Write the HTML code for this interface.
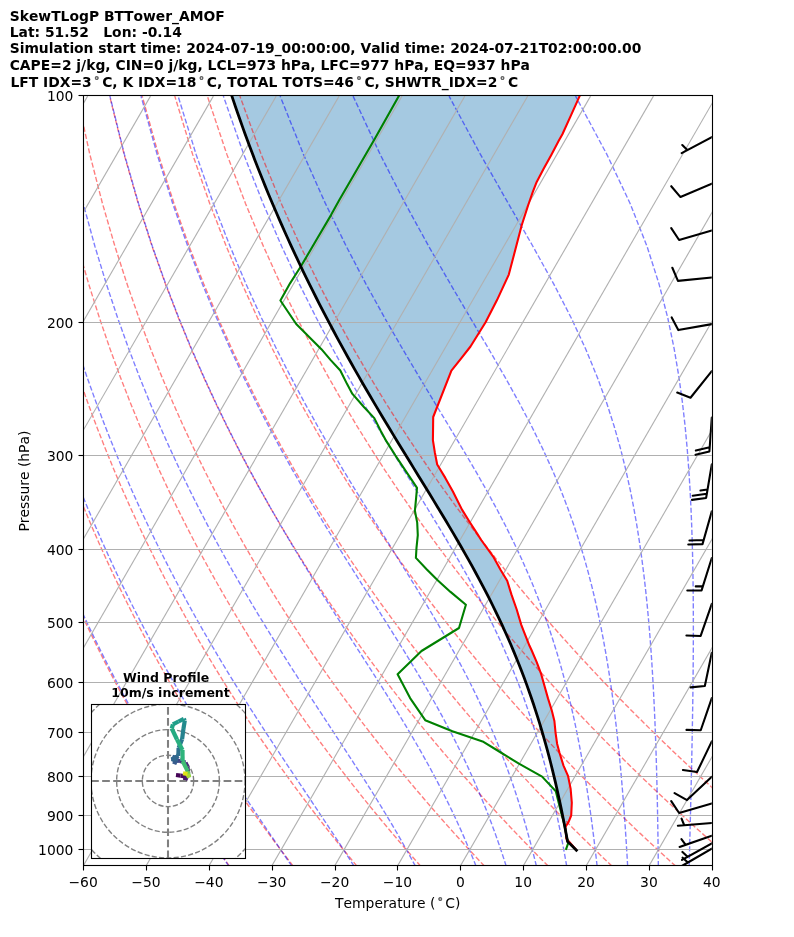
<!DOCTYPE html><html><head><meta charset="utf-8"><style>html,body{margin:0;padding:0;background:#fff}svg{display:block;will-change:transform}text{font-kerning:none;font-feature-settings:"kern" 0}</style></head><body><svg width="794" height="937" viewBox="0 0 794 937"><rect width="794" height="937" fill="#fff"/><defs><clipPath id="ax"><rect x="83.12" y="96.1" width="628.67" height="770.0"/></clipPath></defs><g clip-path="url(#ax)"><polygon points="230.03,90.5 230.2,91 230.36,91.5 230.53,92 230.69,92.5 230.86,93 231.02,93.5 231.19,94 231.31,94.36 231.35,94.5 231.52,95 231.69,95.5 231.85,96 231.92,96.2 232.02,96.5 232.19,97 232.36,97.5 232.52,98 232.69,98.5 232.86,99 233.03,99.5 233.19,100 233.36,100.5 233.5,100.92 233.53,101 233.7,101.5 233.87,102 234.04,102.5 234.21,103 234.38,103.5 234.55,104 234.72,104.5 234.89,105 235.06,105.5 235.23,106 235.4,106.5 235.57,107 235.73,107.47 235.74,107.5 235.91,108 236.09,108.5 236.26,109 236.43,109.5 236.6,110 236.78,110.5 236.95,111 237.12,111.5 237.3,112 237.47,112.5 237.64,113 237.81,113.5 237.99,114 237.99,114.02 238.16,114.5 238.2,114.6 238.34,115 238.51,115.5 238.69,116 238.86,116.5 239.04,117 239.21,117.5 239.39,118 239.56,118.5 239.74,119 239.91,119.5 240.09,120 240.27,120.5 240.29,120.57 240.44,121 240.62,121.5 240.8,122 240.98,122.5 241.16,123 241.33,123.5 241.51,124 241.69,124.5 241.87,125 242.05,125.5 242.22,126 242.4,126.5 242.58,127 242.62,127.13 242.76,127.5 242.94,128 243.12,128.5 243.3,129 243.48,129.5 243.66,130 243.84,130.5 244.02,131 244.2,131.5 244.39,132 244.57,132.5 244.75,133 244.93,133.5 244.99,133.68 245.11,134 245.22,134.3 245.29,134.5 245.48,135 245.66,135.5 245.84,136 246.03,136.5 246.21,137 246.39,137.5 246.58,138 246.76,138.5 246.94,139 247.13,139.5 247.31,140 247.4,140.23 247.5,140.5 247.68,141 247.72,141.1 247.87,141.5 248.05,142 248.24,142.5 248.43,143 248.61,143.5 248.8,144 248.98,144.5 249.17,145 249.36,145.5 249.54,146 249.73,146.5 249.83,146.79 249.92,147 250.1,147.5 250.29,148 250.48,148.5 250.67,149 250.86,149.5 251.05,150 251.24,150.5 251.43,151 251.61,151.5 251.8,152 251.99,152.5 252.18,153 252.31,153.34 252.37,153.5 252.56,154 252.75,154.5 252.94,155 253.1,155.4 253.14,155.5 253.33,156 253.52,156.5 253.71,157 253.9,157.5 254.09,158 254.29,158.5 254.48,159 254.67,159.5 254.82,159.89 254.86,160 255.05,160.5 255.25,161 255.44,161.5 255.64,162 255.83,162.5 256.03,163 256.22,163.5 256.41,164 256.61,164.5 256.8,165 257,165.5 257.19,166 257.36,166.44 257.39,166.5 257.58,167 257.78,167.5 257.98,168 258.17,168.5 258.37,169 258.41,169.1 258.57,169.5 258.77,170 258.96,170.5 259.16,171 259.36,171.5 259.55,172 259.75,172.5 259.95,173 259.95,173 260.15,173.5 260.35,174 260.55,174.5 260.75,175 260.95,175.5 261.15,176 261.35,176.5 261.55,177 261.75,177.5 261.95,178 262.15,178.5 262.35,179 262.55,179.5 262.57,179.55 262.75,180 262.95,180.5 263.15,181 263.36,181.5 263.52,181.9 263.56,182 263.76,182.5 263.96,183 264.17,183.5 264.37,184 264.57,184.5 264.77,185 264.98,185.5 265.18,186 265.22,186.1 265.38,186.5 265.59,187 265.79,187.5 266,188 266.2,188.5 266.41,189 266.62,189.5 266.82,190 267.03,190.5 267.23,191 267.44,191.5 267.52,191.7 267.64,192 267.85,192.5 267.91,192.66 268.06,193 268.26,193.5 268.47,194 268.68,194.5 268.89,195 269.1,195.5 269.3,196 269.51,196.5 269.72,197 269.93,197.5 270.14,198 270.35,198.5 270.55,199 270.64,199.21 270.76,199.5 270.97,200 271.19,200.5 271.4,201 271.61,201.5 271.82,202 272.03,202.5 272.24,203 272.45,203.5 272.66,204 272.87,204.5 273.08,205 273.3,205.5 273.41,205.76 273.51,206 273.72,206.5 273.94,207 274.15,207.5 274.36,208 274.58,208.5 274.79,209 275.01,209.5 275.22,210 275.43,210.5 275.65,211 275.86,211.5 276.07,212 276.21,212.32 276.29,212.5 276.51,213 276.72,213.5 276.94,214 277.16,214.5 277.37,215 277.59,215.5 277.81,216 278.02,216.5 278.24,217 278.46,217.5 278.67,218 278.89,218.5 279.05,218.87 279.11,219 279.33,219.5 279.55,220 279.77,220.5 279.99,221 280.21,221.5 280.43,222 280.65,222.5 280.86,223 281.08,223.5 281.3,224 281.52,224.5 281.74,225 281.87,225.3 281.93,225.42 281.96,225.5 282.19,226 282.41,226.5 282.63,227 282.85,227.5 283.08,228 283.3,228.5 283.52,229 283.74,229.5 283.97,230 284.19,230.5 284.41,231 284.63,231.5 284.84,231.97 284.86,232 285.08,232.5 285.31,233 285.53,233.5 285.76,234 285.98,234.5 286.21,235 286.43,235.5 286.66,236 286.88,236.5 287.11,237 287.33,237.5 287.56,238 287.79,238.5 287.8,238.53 288.01,239 288.24,239.5 288.47,240 288.7,240.5 288.93,241 289.15,241.5 289.38,242 289.61,242.5 289.84,243 290.07,243.5 290.3,244 290.52,244.5 290.75,245 290.79,245.08 290.98,245.5 291.21,246 291.45,246.5 291.68,247 291.91,247.5 292.14,248 292.37,248.5 292.6,249 292.83,249.5 293.06,250 293.29,250.5 293.53,251 293.76,251.5 293.82,251.63 293.99,252 294.22,252.5 294.46,253 294.69,253.5 294.93,254 295.16,254.5 295.39,255 295.63,255.5 295.86,256 296.1,256.5 296.33,257 296.56,257.5 296.8,258 296.89,258.19 297.03,258.5 297.27,259 297.51,259.5 297.75,260 297.98,260.5 298.22,261 298.46,261.5 298.69,262 298.93,262.5 299.17,263 299.4,263.5 299.64,264 299.88,264.5 299.99,264.74 300.12,265 300.36,265.5 300.6,266 300.84,266.5 301.08,267 301.32,267.5 301.56,268 301.8,268.5 302.04,269 302.28,269.5 302.52,270 302.76,270.5 303,271 303.14,271.29 303.24,271.5 303.48,272 303.72,272.5 303.97,273 304.21,273.5 304.45,274 304.69,274.5 304.74,274.6 304.94,275 305.18,275.5 305.42,276 305.67,276.5 305.91,277 306.15,277.5 306.32,277.84 306.4,278 306.64,278.5 306.89,279 307.13,279.5 307.38,280 307.62,280.5 307.87,281 308.12,281.5 308.36,282 308.61,282.5 308.85,283 309.1,283.5 309.34,284 309.54,284.4 309.59,284.5 309.84,285 310.09,285.5 310.34,286 310.59,286.5 310.83,287 311.08,287.5 311.33,288 311.58,288.5 311.83,289 312.08,289.5 312.33,290 312.58,290.5 312.8,290.95 312.82,291 313.08,291.5 313.33,292 313.58,292.5 313.83,293 314.08,293.5 314.33,294 314.59,294.5 314.84,295 315.09,295.5 315.34,296 315.59,296.5 315.84,297 316.1,297.5 316.1,297.5 316.35,298 316.6,298.5 316.86,299 317.11,299.5 317.37,300 317.42,300.1 317.62,300.5 317.88,301 318.13,301.5 318.39,302 318.64,302.5 318.89,303 319.15,303.5 319.4,304 319.43,304.06 319.66,304.5 319.92,305 320.18,305.5 320.43,306 320.69,306.5 320.95,307 321.21,307.5 321.46,308 321.72,308.5 321.98,309 322.24,309.5 322.49,310 322.75,310.5 322.81,310.61 323.01,311 323.27,311.5 323.53,312 323.79,312.5 324.05,313 324.31,313.5 324.57,314 324.83,314.5 325.09,315 325.35,315.5 325.61,316 325.87,316.5 326.13,317 326.22,317.16 326.4,317.5 326.66,318 326.92,318.5 327.19,319 327.45,319.5 327.71,320 327.98,320.5 328.24,321 328.5,321.5 328.77,322 328.92,322.3 329.03,322.5 329.29,323 329.55,323.5 329.67,323.72 329.82,324 330.09,324.5 330.35,325 330.62,325.5 330.88,326 331.15,326.5 331.42,327 331.68,327.5 331.95,328 332.21,328.5 332.48,329 332.75,329.5 333.01,330 333.16,330.27 333.28,330.5 333.55,331 333.82,331.5 334.09,332 334.36,332.5 334.62,333 334.89,333.5 335.16,334 335.43,334.5 335.7,335 335.97,335.5 336.24,336 336.51,336.5 336.68,336.82 336.78,337 337.05,337.5 337.32,338 337.59,338.5 337.86,339 338.13,339.5 338.41,340 338.68,340.5 338.95,341 339.22,341.5 339.49,342 339.77,342.5 340.04,343 340.24,343.37 340.31,343.5 340.58,344 340.86,344.5 341.13,345 341.41,345.5 341.68,346 341.96,346.5 342.23,347 342.5,347.5 342.78,348 343.05,348.5 343.33,349 343.6,349.5 343.84,349.93 343.88,350 344.15,350.5 344.43,351 344.71,351.5 344.99,352 345.26,352.5 345.54,353 345.82,353.5 346.1,354 346.37,354.5 346.65,355 346.93,355.5 347.2,356 347.47,356.48 347.48,356.5 347.76,357 348.04,357.5 348.32,358 348.6,358.5 348.77,358.8 348.88,359 349.16,359.5 349.44,360 349.72,360.5 350,361 350.28,361.5 350.56,362 350.84,362.5 351.12,363 351.14,363.03 351.4,363.5 351.68,364 351.97,364.5 352.25,365 352.53,365.5 352.81,366 353.1,366.5 353.38,367 353.66,367.5 353.94,368 354.23,368.5 354.51,369 354.79,369.5 354.84,369.59 355.08,370 355.36,370.5 355.47,370.7 355.65,371 355.93,371.5 356.22,372 356.5,372.5 356.79,373 357.07,373.5 357.36,374 357.64,374.5 357.93,375 358.21,375.5 358.5,376 358.58,376.14 358.78,376.5 359.07,377 359.36,377.5 359.65,378 359.93,378.5 360.22,379 360.51,379.5 360.8,380 361.08,380.5 361.37,381 361.66,381.5 361.95,382 362.23,382.5 362.34,382.69 362.52,383 362.81,383.5 363.1,384 363.39,384.5 363.68,385 363.97,385.5 364.26,386 364.55,386.5 364.84,387 365.13,387.5 365.42,388 365.71,388.5 366,389 366.14,389.24 366.29,389.5 366.58,390 366.88,390.5 367.17,391 367.46,391.5 367.75,392 368.04,392.5 368.34,393 368.63,393.5 368.92,394 369.21,394.5 369.51,395 369.8,395.5 369.97,395.8 370.09,396 370.38,396.5 370.68,397 370.97,397.5 371.27,398 371.56,398.5 371.86,399 372.15,399.5 372.45,400 372.74,400.5 373.03,401 373.33,401.5 373.62,402 373.83,402.35 373.92,402.5 374.21,403 374.51,403.5 374.81,404 375.1,404.5 375.4,405 375.7,405.5 375.99,406 376.29,406.5 376.59,407 376.88,407.5 377.18,408 377.48,408.5 377.71,408.9 377.77,409 378.07,409.5 378.37,410 378.67,410.5 378.97,411 379.26,411.5 379.56,412 379.86,412.5 380.16,413 380.46,413.5 380.76,414 381.05,414.5 381.35,415 381.63,415.46 381.65,415.5 381.95,416 382.25,416.5 382.55,417 382.85,417.5 383.15,418 383.45,418.5 383.75,419 384.05,419.5 384.35,420 384.65,420.5 384.95,421 385.25,421.5 385.55,422 385.56,422.01 385.86,422.5 386.16,423 386.46,423.5 386.76,424 387.06,424.5 387.36,425 387.67,425.5 387.97,426 388.27,426.5 388.57,427 388.87,427.5 389.18,428 389.48,428.5 389.52,428.56 389.78,429 390.08,429.5 390.39,430 390.69,430.5 390.99,431 391.3,431.5 391.6,432 391.9,432.5 392.21,433 392.51,433.5 392.81,434 393.12,434.5 393.42,435 393.49,435.12 393.72,435.5 394.03,436 394.33,436.5 394.64,437 394.94,437.5 395.25,438 395.55,438.5 395.86,439 396.16,439.5 396.47,440 396.53,440.1 396.77,440.5 397.07,441 397.38,441.5 397.48,441.67 397.68,442 397.99,442.5 398.3,443 398.6,443.5 398.91,444 399.21,444.5 399.52,445 399.82,445.5 400.13,446 400.44,446.5 400.74,447 401.05,447.5 401.35,448 401.49,448.22 401.66,448.5 401.97,449 402.27,449.5 402.58,450 402.89,450.5 403.19,451 403.5,451.5 403.8,452 403.93,452.2 404.11,452.5 404.42,453 404.72,453.5 405.03,454 405.34,454.5 405.51,454.77 405.64,455 405.95,455.5 406.26,456 406.57,456.5 406.87,457 407.18,457.5 407.49,458 407.79,458.5 408.1,459 408.41,459.5 408.72,460 409.02,460.5 409.33,461 409.53,461.33 409.64,461.5 409.95,462 410.25,462.5 410.56,463 410.87,463.5 411.18,464 411.48,464.5 411.79,465 412.1,465.5 412.41,466 412.71,466.5 413.02,467 413.33,467.5 413.56,467.88 413.64,468 413.94,468.5 414.25,469 414.56,469.5 414.87,470 415.18,470.5 415.48,471 415.79,471.5 416.1,472 416.41,472.5 416.71,473 417.02,473.5 417.33,474 417.6,474.43 417.64,474.5 417.95,475 418.25,475.5 418.56,476 418.87,476.5 419.18,477 419.48,477.5 419.73,477.9 419.79,478 420.1,478.5 420.41,479 420.71,479.5 421.02,480 421.33,480.5 421.63,480.99 421.64,481 421.94,481.5 422.25,482 422.56,482.5 422.87,483 423.17,483.5 423.48,484 423.79,484.5 424.09,485 424.4,485.5 424.71,486 425.02,486.5 425.32,487 425.63,487.5 425.65,487.54 425.94,488 426.24,488.5 426.55,489 426.86,489.5 427.16,490 427.47,490.5 427.78,491 428.08,491.5 428.39,492 428.7,492.5 429,493 429.31,493.5 429.61,494 429.67,494.09 429.92,494.5 430.23,495 430.53,495.5 430.84,496 431.14,496.5 431.45,497 431.75,497.5 432.06,498 432.36,498.5 432.67,499 432.98,499.5 433.28,500 433.59,500.5 433.68,500.64 433.89,501 434.2,501.5 434.5,502 434.8,502.5 435.11,503 435.41,503.5 435.72,504 436.02,504.5 436.32,505 436.63,505.5 436.93,506 437.24,506.5 437.54,507 437.66,507.2 437.84,507.5 438.15,508 438.45,508.5 438.75,509 439.05,509.5 439.12,509.6 439.36,510 439.66,510.5 439.96,511 440.27,511.5 440.57,512 440.87,512.5 441.17,513 441.48,513.5 441.63,513.75 441.78,514 442.08,514.5 442.38,515 442.68,515.5 442.98,516 443.28,516.5 443.58,517 443.88,517.5 444.18,518 444.48,518.5 444.78,519 445.08,519.5 445.38,520 445.57,520.3 445.68,520.5 445.98,521 446.28,521.5 446.4,521.7 446.58,522 446.88,522.5 447.18,523 447.47,523.5 447.77,524 448.07,524.5 448.37,525 448.67,525.5 448.97,526 449.26,526.5 449.48,526.86 449.56,527 449.86,527.5 450.15,528 450.45,528.5 450.75,529 451.04,529.5 451.34,530 451.63,530.5 451.93,531 452.22,531.5 452.52,532 452.82,532.5 453.11,533 453.35,533.41 453.41,533.5 453.7,534 453.99,534.5 454.05,534.6 454.29,535 454.58,535.5 454.87,536 455.17,536.5 455.46,537 455.75,537.5 456.04,538 456.34,538.5 456.63,539 456.92,539.5 457.19,539.96 457.22,540 457.51,540.5 457.79,541 458.08,541.5 458.37,542 458.66,542.5 458.95,543 459.24,543.5 459.53,544 459.82,544.5 460.11,545 460.4,545.5 460.69,546 460.98,546.5 460.99,546.52 461.27,547 461.55,547.5 461.84,548 462.13,548.5 462.41,549 462.7,549.5 462.99,550 463.27,550.5 463.56,551 463.85,551.5 464.13,552 464.42,552.5 464.7,553 464.74,553.07 464.99,553.5 465.27,554 465.55,554.5 465.83,555 466.12,555.5 466.4,556 466.68,556.5 466.74,556.6 466.96,557 467.25,557.5 467.53,558 467.81,558.5 468.1,559 468.38,559.5 468.45,559.62 468.66,560 468.94,560.5 469.21,561 469.49,561.5 469.77,562 470.05,562.5 470.33,563 470.61,563.5 470.89,564 471.16,564.5 471.44,565 471.72,565.5 472,566 472.1,566.17 472.28,566.5 472.55,567 472.82,567.5 473.1,568 473.37,568.5 473.65,569 473.92,569.5 474.2,570 474.31,570.2 474.47,570.5 474.74,571 475.02,571.5 475.29,572 475.57,572.5 475.69,572.73 475.84,573 476.11,573.5 476.38,574 476.65,574.5 476.92,575 477.19,575.5 477.46,576 477.73,576.5 478,577 478.27,577.5 478.54,578 478.81,578.5 479.08,579 479.23,579.28 479.34,579.5 479.61,580 479.87,580.5 480.03,580.8 480.14,581 480.4,581.5 480.67,582 480.93,582.5 481.2,583 481.47,583.5 481.73,584 482,584.5 482.26,585 482.53,585.5 482.7,585.83 482.79,586 483.05,586.5 483.31,587 483.57,587.5 483.83,588 484.09,588.5 484.35,589 484.61,589.5 484.87,590 485.13,590.5 485.39,591 485.65,591.5 485.91,592 486.11,592.39 486.17,592.5 486.43,593 486.68,593.5 486.94,594 487.14,594.4 487.19,594.5 487.45,595 487.7,595.5 487.96,596 488.21,596.5 488.47,597 488.72,597.5 488.98,598 489.23,598.5 489.46,598.94 489.49,599 489.74,599.5 489.99,600 490.24,600.5 490.49,601 490.74,601.5 490.99,602 491.24,602.5 491.49,603 491.74,603.5 491.99,604 492.24,604.5 492.49,605 492.74,605.49 492.74,605.5 492.98,606 493.23,606.5 493.47,607 493.72,607.5 493.96,608 494.21,608.5 494.45,609 494.7,609.5 494.94,610 495.19,610.5 495.43,611 495.68,611.5 495.92,612 495.94,612.04 496.16,612.5 496.4,613 496.64,613.5 496.88,614 497.12,614.5 497.36,615 497.6,615.5 497.84,616 498.08,616.5 498.32,617 498.56,617.5 498.79,618 499.03,618.5 499.08,618.6 499.27,619 499.5,619.5 499.74,620 499.97,620.5 500.2,621 500.44,621.5 500.67,622 500.91,622.5 501.14,623 501.37,623.5 501.61,624 501.84,624.5 501.89,624.6 502.08,625 502.15,625.15 502.31,625.5 502.53,626 502.76,626.5 502.99,627 503.22,627.5 503.45,628 503.68,628.5 503.91,629 504.13,629.5 504.36,630 504.59,630.5 504.68,630.7 504.82,631 505.05,631.5 505.14,631.7 505.27,632 505.5,632.5 505.72,633 505.94,633.5 506.16,634 506.39,634.5 506.61,635 506.83,635.5 507.06,636 507.28,636.5 507.5,637 507.72,637.5 507.95,638 508.06,638.26 508.17,638.5 508.39,639 508.6,639.5 508.82,640 509.04,640.5 509.25,641 509.47,641.5 509.69,642 509.91,642.5 510.12,643 510.34,643.5 510.56,644 510.78,644.5 510.91,644.81 510.99,645 511.2,645.5 511.33,645.8 511.42,646 511.63,646.5 511.84,647 512.05,647.5 512.26,648 512.47,648.5 512.69,649 512.9,649.5 513.11,650 513.32,650.5 513.53,651 513.69,651.36 513.74,651.5 513.95,652 514.16,652.5 514.36,653 514.57,653.5 514.78,654 514.98,654.5 515.19,655 515.39,655.5 515.6,656 515.81,656.5 516.01,657 516.22,657.5 516.39,657.92 516.42,658 516.63,658.5 516.83,659 517.03,659.5 517.23,660 517.43,660.5 517.63,661 517.83,661.5 518.03,662 518.07,662.1 518.23,662.5 518.43,663 518.63,663.5 518.84,664 519.02,664.47 519.04,664.5 519.23,665 519.43,665.5 519.62,666 519.82,666.5 520.01,667 520.21,667.5 520.4,668 520.6,668.5 520.79,669 520.99,669.5 521.19,670 521.38,670.5 521.58,671 521.58,671.02 521.77,671.5 521.96,672 522.15,672.5 522.34,673 522.53,673.5 522.72,674 522.79,674.2 522.91,674.5 523.1,675 523.29,675.5 523.48,676 523.67,676.5 523.86,677 524.05,677.5 524.07,677.57 524.23,678 524.42,678.5 524.6,679 524.79,679.5 524.97,680 525.16,680.5 525.34,681 525.53,681.5 525.71,682 525.9,682.5 526.08,683 526.26,683.5 526.45,684 526.5,684.13 526.63,684.5 526.81,685 526.99,685.5 527.17,686 527.35,686.5 527.53,687 527.71,687.5 527.89,688 528.07,688.5 528.25,689 528.43,689.5 528.61,690 528.79,690.5 528.85,690.68 528.96,691 529.14,691.5 529.31,692 529.49,692.5 529.66,693 529.83,693.5 530.01,694 530.18,694.5 530.36,695 530.53,695.5 530.71,696 530.88,696.5 531.06,697 531.14,697.23 531.23,697.5 531.4,698 531.53,698.4 531.57,698.5 531.74,699 531.9,699.5 532.07,700 532.24,700.5 532.41,701 532.58,701.5 532.75,702 532.92,702.5 533.09,703 533.26,703.5 533.36,703.79 533.43,704 533.59,704.5 533.76,705 533.92,705.5 534.09,706 534.25,706.5 534.42,707 534.58,707.5 534.74,708 534.91,708.5 535.07,709 535.24,709.5 535.4,710 535.51,710.34 535.57,710.5 535.73,711 535.89,711.5 536.05,712 536.2,712.5 536.36,713 536.52,713.5 536.68,714 536.84,714.5 537,715 537.16,715.5 537.32,716 537.48,716.5 537.61,716.89 537.64,717 537.8,717.5 537.95,718 538.11,718.5 538.26,719 538.42,719.5 538.57,720 538.73,720.5 538.88,721 539.04,721.5 539.19,722 539.35,722.5 539.5,723 539.64,723.44 539.66,723.5 539.81,724 539.96,724.5 540.11,725 540.26,725.5 540.41,726 540.56,726.5 540.71,727 540.86,727.5 541.01,728 541.16,728.5 541.31,729 541.46,729.5 541.61,730 541.61,730 541.76,730.5 541.91,731 542.05,731.5 542.2,732 542.35,732.5 542.49,733 542.52,733.1 542.64,733.5 542.78,734 542.93,734.5 543.08,735 543.22,735.5 543.37,736 543.51,736.5 543.53,736.55 543.66,737 543.8,737.5 543.94,738 544.08,738.5 544.22,739 544.37,739.5 544.51,740 544.65,740.5 544.79,741 544.93,741.5 545.07,742 545.22,742.5 545.36,743 545.39,743.1 545.5,743.5 545.55,743.7 545.63,744 545.77,744.5 545.91,745 546.05,745.5 546.18,746 546.32,746.5 546.46,747 546.6,747.5 546.73,748 546.87,748.5 547.01,749 547.15,749.5 547.19,749.66 547.28,750 547.42,750.5 547.55,751 547.68,751.5 547.82,752 547.95,752.5 548.03,752.8 548.08,753 548.22,753.5 548.35,754 548.48,754.5 548.62,755 548.75,755.5 548.88,756 548.94,756.21 549.01,756.5 549.14,757 549.27,757.5 549.4,758 549.53,758.5 549.66,759 549.79,759.5 549.92,760 550.05,760.5 550.18,761 550.31,761.5 550.44,762 550.57,762.5 550.64,762.76 550.7,763 550.82,763.5 550.95,764 551.07,764.5 551.2,765 551.33,765.5 551.35,765.6 551.45,766 551.58,766.5 551.7,767 551.83,767.5 551.95,768 552.08,768.5 552.21,769 552.29,769.32 552.33,769.5 552.45,770 552.57,770.5 552.7,771 552.82,771.5 552.94,772 553.06,772.5 553.18,773 553.31,773.5 553.43,774 553.55,774.5 553.67,775 553.79,775.5 553.87,775.8 553.88,775.87 553.92,776 554.03,776.5 554.15,777 554.27,777.5 554.39,778 554.51,778.5 554.63,779 554.74,779.5 554.86,780 554.98,780.5 555.1,781 555.22,781.5 555.34,782 555.44,782.42 555.45,782.5 555.57,783 555.68,783.5 555.8,784 555.91,784.5 556.03,785 556.14,785.5 556.26,786 556.37,786.5 556.49,787 556.6,787.5 556.72,788 556.83,788.5 556.86,788.6 556.94,788.97 556.95,789 557.06,789.5 557.17,790 557.28,790.5 557.39,791 557.51,791.5 557.62,792 557.73,792.5 557.84,793 557.95,793.5 558.06,794 558.18,794.5 558.29,795 558.4,795.5 558.4,795.53 558.51,796 558.62,796.5 558.72,797 558.83,797.5 558.94,798 559.05,798.5 559.16,799 559.26,799.5 559.37,800 559.48,800.5 559.59,801 559.7,801.5 559.81,802 559.82,802.08 559.91,802.5 559.95,802.7 560.02,803 560.12,803.5 560.23,804 560.33,804.5 560.44,805 560.54,805.5 560.65,806 560.75,806.5 560.86,807 560.96,807.5 561.07,808 561.17,808.5 561.2,808.63 561.28,809 561.38,809.5 561.48,810 561.58,810.5 561.69,811 561.79,811.5 561.89,812 561.99,812.5 562.09,813 562.2,813.5 562.3,814 562.4,814.5 562.5,815 562.54,815.19 562.6,815.5 562.7,816 562.8,816.5 562.9,817 563,817.5 563.1,818 563.2,818.5 563.3,819 563.4,819.5 563.49,820 563.59,820.5 563.69,821 563.79,821.5 563.84,821.74 563.87,821.9 563.89,822 563.99,822.5 564.08,823 564.18,823.5 564.28,824 564.37,824.5 564.47,825 564.56,825.5 564.66,826 564.76,826.5 564.85,827 564.95,827.5 565.05,828 565.1,828.29 565.14,828.5 565.23,829 565.33,829.5 565.42,830 565.52,830.5 565.61,831 565.7,831.5 565.8,832 565.89,832.5 565.98,833 566.08,833.5 566.17,834 566.26,834.5 566.33,834.84 566.36,835 566.45,835.5 566.54,836 566.63,836.5 566.72,837 566.81,837.5 566.9,838 566.99,838.5 567.08,839 567.18,839.5 567.27,840 567.36,840.5 567.45,841 567.52,841.4 567.62,841.5 568.13,842 568.63,842.5 569.13,843 569.63,843.5 569.75,843.62 570.13,844 570.64,844.5 571.14,845 571.64,845.5 571.97,845.82 572.15,846 572.65,846.5 573.16,847 573.66,847.5 574.17,848 574.18,848.01 574.67,848.5 575.18,849 575.58,849.4 575.8,849.4 575.45,849 575.02,848.5 574.59,848.01 574.58,848 574.14,847.5 573.71,847 573.27,846.5 572.84,846 572.68,845.82 572.4,845.5 571.97,845 571.53,844.5 571.09,844 570.76,843.62 570.66,843.5 570.22,843 569.79,842.5 569.35,842 568.91,841.5 568.83,841.4 568.48,841 568.04,840.5 567.61,840 567.18,839.5 567.08,839 566.99,838.5 566.9,838 566.81,837.5 566.72,837 566.63,836.5 566.54,836 566.45,835.5 566.36,835 566.33,834.84 566.26,834.5 566.17,834 566.08,833.5 565.98,833 565.89,832.5 565.8,832 565.75,831.5 565.71,831 565.67,830.5 565.63,830 565.6,829.5 565.56,829 565.52,828.5 565.5,828.29 565.48,828 565.44,827.5 565.4,827 565.71,826.5 566.03,826 566.34,825.5 566.65,825 566.97,824.5 567.28,824 567.6,823.5 567.91,823 568.22,822.5 568.54,822 568.6,821.9 568.67,821.74 568.76,821.5 568.97,821 569.17,820.5 569.37,820 569.58,819.5 569.78,819 569.98,818.5 570.18,818 570.39,817.5 570.59,817 570.79,816.5 571,816 571.2,815.5 571.21,815.19 571.22,815 571.25,814.5 571.27,814 571.29,813.5 571.32,813 571.34,812.5 571.36,812 571.39,811.5 571.41,811 571.43,810.5 571.46,810 571.48,809.5 571.5,809 571.52,808.63 571.53,808.5 571.55,808 571.58,807.5 571.6,807 571.62,806.5 571.65,806 571.67,805.5 571.69,805 571.72,804.5 571.74,804 571.76,803.5 571.79,803 571.8,802.7 571.78,802.5 571.75,802.08 571.74,802 571.7,801.5 571.66,801 571.61,800.5 571.57,800 571.53,799.5 571.49,799 571.44,798.5 571.4,798 571.36,797.5 571.31,797 571.27,796.5 571.23,796 571.19,795.53 571.19,795.5 571.14,795 571.1,794.5 571.06,794 571.02,793.5 570.97,793 570.93,792.5 570.89,792 570.85,791.5 570.8,791 570.76,790.5 570.72,790 570.68,789.5 570.63,789 570.63,788.97 570.6,788.6 570.58,788.5 570.48,788 570.38,787.5 570.27,787 570.17,786.5 570.07,786 569.97,785.5 569.87,785 569.77,784.5 569.67,784 569.56,783.5 569.46,783 569.36,782.5 569.34,782.42 569.26,782 569.16,781.5 569.06,781 568.95,780.5 568.85,780 568.75,779.5 568.65,779 568.55,778.5 568.45,778 568.35,777.5 568.24,777 568.14,776.5 568.04,776 568.01,775.87 568,775.8 567.87,775.5 567.65,775 567.43,774.5 567.21,774 566.99,773.5 566.76,773 566.54,772.5 566.32,772 566.1,771.5 565.88,771 565.66,770.5 565.44,770 565.22,769.5 565.14,769.32 565,769 564.78,768.5 564.56,768 564.34,767.5 564.12,767 563.9,766.5 563.68,766 563.5,765.6 563.47,765.5 563.31,765 563.16,764.5 563,764 562.84,763.5 562.69,763 562.61,762.76 562.53,762.5 562.38,762 562.22,761.5 562.06,761 561.91,760.5 561.75,760 561.59,759.5 561.44,759 561.28,758.5 561.12,758 560.97,757.5 560.81,757 560.66,756.5 560.57,756.21 560.5,756 560.34,755.5 560.19,755 560.03,754.5 559.88,754 559.72,753.5 559.56,753 559.5,752.8 559.42,752.5 559.29,752 559.16,751.5 559.03,751 558.89,750.5 558.76,750 558.67,749.66 558.63,749.5 558.5,749 558.37,748.5 558.23,748 558.1,747.5 557.97,747 557.84,746.5 557.71,746 557.57,745.5 557.44,745 557.31,744.5 557.18,744 557.1,743.7 557.07,743.5 557.02,743.1 557,743 556.93,742.5 556.86,742 556.79,741.5 556.72,741 556.65,740.5 556.58,740 556.51,739.5 556.43,739 556.36,738.5 556.29,738 556.22,737.5 556.15,737 556.09,736.55 556.08,736.5 556.01,736 555.94,735.5 555.87,735 555.8,734.5 555.73,734 555.66,733.5 555.6,733.1 555.59,733 555.54,732.5 555.49,732 555.44,731.5 555.39,731 555.34,730.5 555.29,730 555.29,730 555.24,729.5 555.19,729 555.14,728.5 555.09,728 555.04,727.5 555,727 554.95,726.5 554.9,726 554.85,725.5 554.8,725 554.75,724.5 554.7,724 554.65,723.5 554.64,723.44 554.6,723 554.55,722.5 554.5,722 554.45,721.5 554.4,721 554.28,720.5 554.15,720 554.03,719.5 553.9,719 553.78,718.5 553.66,718 553.53,717.5 553.41,717 553.38,716.89 553.29,716.5 553.16,716 553.04,715.5 552.91,715 552.79,714.5 552.67,714 552.54,713.5 552.42,713 552.3,712.5 552.17,712 552.05,711.5 551.92,711 551.8,710.5 551.75,710.34 551.64,710 551.49,709.5 551.33,709 551.17,708.5 551.01,708 550.86,707.5 550.7,707 550.54,706.5 550.39,706 550.23,705.5 550.07,705 549.92,704.5 549.76,704 549.69,703.79 549.6,703.5 549.44,703 549.29,702.5 549.13,702 548.97,701.5 548.82,701 548.66,700.5 548.5,700 548.35,699.5 548.19,699 548.03,698.5 548,698.4 547.89,698 547.75,697.5 547.67,697.23 547.61,697 547.47,696.5 547.33,696 547.19,695.5 547.04,695 546.9,694.5 546.76,694 546.62,693.5 546.48,693 546.34,692.5 546.2,692 546.06,691.5 545.92,691 545.83,690.68 545.78,690.5 545.64,690 545.5,689.5 545.36,689 545.22,688.5 545.08,688 544.94,687.5 544.8,687 544.66,686.5 544.52,686 544.38,685.5 544.23,685 544.09,684.5 543.99,684.13 543.95,684 543.81,683.5 543.67,683 543.53,682.5 543.39,682 543.25,681.5 543.11,681 542.97,680.5 542.83,680 542.69,679.5 542.55,679 542.41,678.5 542.27,678 542.15,677.57 542.13,677.5 541.99,677 541.85,676.5 541.71,676 541.57,675.5 541.42,675 541.28,674.5 541.2,674.2 541.13,674 540.94,673.5 540.75,673 540.57,672.5 540.38,672 540.2,671.5 540.02,671.02 540.01,671 539.82,670.5 539.64,670 539.45,669.5 539.27,669 539.08,668.5 538.89,668 538.71,667.5 538.52,667 538.34,666.5 538.15,666 537.96,665.5 537.78,665 537.59,664.5 537.58,664.47 537.41,664 537.22,663.5 537.03,663 536.85,662.5 536.7,662.1 536.66,662 536.44,661.5 536.23,661 536.01,660.5 535.8,660 535.58,659.5 535.37,659 535.15,658.5 534.94,658 534.9,657.92 534.72,657.5 534.51,657 534.29,656.5 534.08,656 533.86,655.5 533.65,655 533.43,654.5 533.22,654 533,653.5 532.79,653 532.57,652.5 532.36,652 532.14,651.5 532.09,651.36 531.93,651 531.71,650.5 531.5,650 531.26,649.5 531.02,649 530.79,648.5 530.55,648 530.31,647.5 530.07,647 529.83,646.5 529.6,646 529.5,645.8 529.38,645.5 529.18,645 529.11,644.81 528.98,644.5 528.78,644 528.59,643.5 528.39,643 528.19,642.5 527.99,642 527.79,641.5 527.59,641 527.39,640.5 527.2,640 527,639.5 526.8,639 526.6,638.5 526.5,638.26 526.4,638 526.2,637.5 526,637 525.8,636.5 525.61,636 525.41,635.5 525.21,635 525.01,634.5 524.81,634 524.61,633.5 524.41,633 524.22,632.5 524.02,632 523.9,631.7 523.82,631.5 523.62,631 523.5,630.7 523.42,630.5 523.24,630 523.05,629.5 522.86,629 522.67,628.5 522.48,628 522.29,627.5 522.1,627 521.92,626.5 521.73,626 521.54,625.5 521.41,625.15 521.35,625 521.2,624.6 521.17,624.5 521.02,624 520.87,623.5 520.72,623 520.57,622.5 520.43,622 520.28,621.5 520.13,621 519.98,620.5 519.83,620 519.68,619.5 519.53,619 519.41,618.6 519.38,618.5 519.23,618 519.08,617.5 518.94,617 518.79,616.5 518.64,616 518.49,615.5 518.34,615 518.19,614.5 518.04,614 517.89,613.5 517.74,613 517.59,612.5 517.46,612.04 517.45,612 517.3,611.5 517.15,611 517,610.5 516.85,610 516.7,609.5 516.52,609 516.35,608.5 516.17,608 516,607.5 515.82,607 515.65,606.5 515.47,606 515.3,605.5 515.29,605.49 515.12,605 514.95,604.5 514.77,604 514.59,603.5 514.42,603 514.24,602.5 514.07,602 513.89,601.5 513.72,601 513.54,600.5 513.37,600 513.19,599.5 513.01,599 512.99,598.94 512.84,598.5 512.66,598 512.49,597.5 512.31,597 512.14,596.5 511.96,596 511.79,595.5 511.61,595 511.44,594.5 511.4,594.4 511.28,594 511.12,593.5 510.97,593 510.81,592.5 510.78,592.39 510.66,592 510.5,591.5 510.35,591 510.2,590.5 510.04,590 509.89,589.5 509.73,589 509.58,588.5 509.42,588 509.27,587.5 509.11,587 508.96,586.5 508.81,586 508.75,585.83 508.65,585.5 508.5,585 508.34,584.5 508.19,584 508.03,583.5 507.88,583 507.73,582.5 507.57,582 507.42,581.5 507.26,581 507.2,580.8 507.02,580.5 506.72,580 506.42,579.5 506.28,579.28 506.11,579 505.81,578.5 505.51,578 505.21,577.5 504.91,577 504.6,576.5 504.3,576 504,575.5 503.7,575 503.4,574.5 503.09,574 502.79,573.5 502.49,573 502.33,572.73 502.19,572.5 501.89,572 501.58,571.5 501.28,571 500.98,570.5 500.8,570.2 500.69,570 500.41,569.5 500.13,569 499.85,568.5 499.57,568 499.29,567.5 499.01,567 498.73,566.5 498.55,566.17 498.45,566 498.17,565.5 497.89,565 497.61,564.5 497.34,564 497.06,563.5 496.78,563 496.5,562.5 496.22,562 495.94,561.5 495.66,561 495.38,560.5 495.1,560 494.89,559.62 494.82,559.5 494.54,559 494.26,558.5 493.98,558 493.7,557.5 493.42,557 493.2,556.6 493.13,556.5 492.77,556 492.4,555.5 492.04,555 491.68,554.5 491.32,554 490.96,553.5 490.65,553.07 490.6,553 490.24,552.5 489.87,552 489.51,551.5 489.15,551 488.79,550.5 488.43,550 488.07,549.5 487.71,549 487.34,548.5 486.98,548 486.62,547.5 486.26,547 485.91,546.52 485.9,546.5 485.54,546 485.18,545.5 484.81,545 484.45,544.5 484.09,544 483.73,543.5 483.37,543 483.01,542.5 482.65,542 482.28,541.5 481.92,541 481.56,540.5 481.2,540 481.18,539.96 480.89,539.5 480.57,539 480.26,538.5 479.94,538 479.63,537.5 479.31,537 479,536.5 478.68,536 478.37,535.5 478.05,535 477.8,534.6 477.74,534.5 477.41,534 477.09,533.5 477.03,533.41 476.77,533 476.45,532.5 476.13,532 475.81,531.5 475.48,531 475.16,530.5 474.84,530 474.52,529.5 474.2,529 473.88,528.5 473.55,528 473.23,527.5 472.91,527 472.82,526.86 472.59,526.5 472.27,526 471.94,525.5 471.62,525 471.3,524.5 470.98,524 470.66,523.5 470.34,523 470.01,522.5 469.69,522 469.5,521.7 469.38,521.5 469.07,521 468.76,520.5 468.63,520.3 468.45,520 468.14,519.5 467.83,519 467.52,518.5 467.21,518 466.9,517.5 466.59,517 466.28,516.5 465.97,516 465.66,515.5 465.35,515 465.04,514.5 464.73,514 464.57,513.75 464.42,513.5 464.11,513 463.8,512.5 463.49,512 463.18,511.5 462.87,511 462.56,510.5 462.25,510 462,509.6 461.95,509.5 461.7,509 461.45,508.5 461.2,508 460.94,507.5 460.79,507.2 460.69,507 460.44,506.5 460.19,506 459.94,505.5 459.69,505 459.44,504.5 459.18,504 458.93,503.5 458.68,503 458.43,502.5 458.18,502 457.93,501.5 457.68,501 457.5,500.64 457.42,500.5 457.17,500 456.92,499.5 456.67,499 456.42,498.5 456.17,498 455.92,497.5 455.67,497 455.41,496.5 455.16,496 454.91,495.5 454.66,495 454.41,494.5 454.2,494.09 454.16,494 453.91,493.5 453.65,493 453.4,492.5 453.15,492 452.9,491.5 452.62,491 452.34,490.5 452.06,490 451.78,489.5 451.5,489 451.22,488.5 450.94,488 450.69,487.54 450.66,487.5 450.39,487 450.11,486.5 449.83,486 449.55,485.5 449.27,485 448.99,484.5 448.71,484 448.43,483.5 448.15,483 447.87,482.5 447.59,482 447.31,481.5 447.03,481 447.02,480.99 446.75,480.5 446.47,480 446.19,479.5 445.91,479 445.64,478.5 445.36,478 445.3,477.9 445.06,477.5 444.76,477 444.45,476.5 444.15,476 443.85,475.5 443.55,475 443.24,474.5 443.2,474.43 442.94,474 442.64,473.5 442.34,473 442.04,472.5 441.73,472 441.43,471.5 441.13,471 440.83,470.5 440.52,470 440.22,469.5 439.92,469 439.62,468.5 439.32,468 439.24,467.88 439.01,467.5 438.71,467 438.41,466.5 438.11,466 437.8,465.5 437.5,465 437.2,464.5 437.1,464 437,463.5 436.91,463 436.81,462.5 436.71,462 436.61,461.5 436.58,461.33 436.52,461 436.42,460.5 436.32,460 436.22,459.5 436.13,459 436.03,458.5 435.93,458 435.83,457.5 435.74,457 435.64,456.5 435.54,456 435.44,455.5 435.35,455 435.3,454.77 435.25,454.5 435.15,454 435.05,453.5 434.96,453 434.86,452.5 434.8,452.2 434.77,452 434.69,451.5 434.61,451 434.53,450.5 434.45,450 434.38,449.5 434.3,449 434.22,448.5 434.18,448.22 434.14,448 434.06,447.5 433.98,447 433.9,446.5 433.83,446 433.75,445.5 433.67,445 433.59,444.5 433.51,444 433.43,443.5 433.36,443 433.28,442.5 433.2,442 433.15,441.67 433.12,441.5 433.04,441 432.96,440.5 432.9,440.1 432.9,440 432.91,439.5 432.91,439 432.92,438.5 432.93,438 432.93,437.5 432.94,437 432.95,436.5 432.95,436 432.96,435.5 432.97,435.12 432.97,435 432.97,434.5 432.98,434 432.99,433.5 432.99,433 433,432.5 433.01,432 433.01,431.5 433.02,431 433.03,430.5 433.03,430 433.04,429.5 433.05,429 433.05,428.56 433.05,428.5 433.06,428 433.07,427.5 433.07,427 433.08,426.5 433.09,426 433.09,425.5 433.1,425 433.11,424.5 433.11,424 433.12,423.5 433.12,423 433.13,422.5 433.14,422.01 433.14,422 433.14,421.5 433.15,421 433.16,420.5 433.16,420 433.17,419.5 433.18,419 433.18,418.5 433.19,418 433.19,417.5 433.2,417 433.4,416.5 433.59,416 433.79,415.5 433.81,415.46 433.99,415 434.18,414.5 434.38,414 434.58,413.5 434.77,413 434.97,412.5 435.17,412 435.36,411.5 435.56,411 435.76,410.5 435.95,410 436.15,409.5 436.34,409 436.38,408.9 436.54,408.5 436.74,408 436.93,407.5 437.13,407 437.33,406.5 437.52,406 437.72,405.5 437.92,405 438.11,404.5 438.31,404 438.51,403.5 438.7,403 438.9,402.5 438.96,402.35 439.1,402 439.29,401.5 439.49,401 439.69,400.5 439.88,400 440.08,399.5 440.28,399 440.47,398.5 440.67,398 440.87,397.5 441.06,397 441.26,396.5 441.45,396 441.53,395.8 441.65,395.5 441.85,395 442.04,394.5 442.24,394 442.44,393.5 442.63,393 442.83,392.5 443.03,392 443.22,391.5 443.42,391 443.62,390.5 443.81,390 444.01,389.5 444.11,389.24 444.21,389 444.4,388.5 444.6,388 444.8,387.5 444.99,387 445.19,386.5 445.39,386 445.58,385.5 445.78,385 445.98,384.5 446.17,384 446.37,383.5 446.57,383 446.69,382.69 446.76,382.5 446.96,382 447.15,381.5 447.35,381 447.55,380.5 447.74,380 447.94,379.5 448.14,379 448.33,378.5 448.53,378 448.73,377.5 448.92,377 449.12,376.5 449.26,376.14 449.32,376 449.51,375.5 449.71,375 449.91,374.5 450.1,374 450.3,373.5 450.5,373 450.69,372.5 450.89,372 451.09,371.5 451.28,371 451.4,370.7 451.56,370.5 451.95,370 452.28,369.59 452.35,369.5 452.74,369 453.14,368.5 453.53,368 453.93,367.5 454.32,367 454.72,366.5 455.11,366 455.51,365.5 455.9,365 456.3,364.5 456.69,364 457.09,363.5 457.46,363.03 457.48,363 457.88,362.5 458.27,362 458.67,361.5 459.06,361 459.46,360.5 459.85,360 460.25,359.5 460.64,359 460.8,358.8 461.04,358.5 461.43,358 461.83,357.5 462.22,357 462.61,356.5 462.63,356.48 463.01,356 463.4,355.5 463.8,355 464.19,354.5 464.59,354 464.98,353.5 465.37,353 465.77,352.5 466.16,352 466.56,351.5 466.95,351 467.35,350.5 467.74,350 467.8,349.93 468.13,349.5 468.53,349 468.92,348.5 469.32,348 469.71,347.5 470.11,347 470.5,346.5 470.81,346 471.12,345.5 471.44,345 471.75,344.5 472.06,344 472.37,343.5 472.45,343.37 472.68,343 473,342.5 473.31,342 473.62,341.5 473.93,341 474.24,340.5 474.56,340 474.87,339.5 475.18,339 475.49,338.5 475.8,338 476.12,337.5 476.43,337 476.54,336.82 476.74,336.5 477.05,336 477.36,335.5 477.68,335 477.99,334.5 478.3,334 478.61,333.5 478.92,333 479.24,332.5 479.55,332 479.86,331.5 480.17,331 480.48,330.5 480.63,330.27 480.8,330 481.11,329.5 481.42,329 481.73,328.5 482.04,328 482.36,327.5 482.67,327 482.98,326.5 483.29,326 483.6,325.5 483.92,325 484.23,324.5 484.54,324 484.72,323.72 484.85,323.5 485.16,323 485.48,322.5 485.6,322.3 485.75,322 486.01,321.5 486.27,321 486.52,320.5 486.78,320 487.04,319.5 487.29,319 487.55,318.5 487.81,318 488.06,317.5 488.24,317.16 488.32,317 488.58,316.5 488.84,316 489.09,315.5 489.35,315 489.61,314.5 489.86,314 490.12,313.5 490.38,313 490.63,312.5 490.89,312 491.15,311.5 491.4,311 491.6,310.61 491.66,310.5 491.92,310 492.17,309.5 492.43,309 492.69,308.5 492.94,308 493.2,307.5 493.46,307 493.71,306.5 493.97,306 494.23,305.5 494.48,305 494.74,304.5 494.97,304.06 495,304 495.25,303.5 495.51,303 495.77,302.5 496.02,302 496.28,301.5 496.54,301 496.79,300.5 497,300.1 497.05,300 497.28,299.5 497.51,299 497.74,298.5 497.97,298 498.2,297.5 498.2,297.5 498.43,297 498.67,296.5 498.9,296 499.13,295.5 499.36,295 499.59,294.5 499.82,294 500.05,293.5 500.29,293 500.52,292.5 500.75,292 500.98,291.5 501.21,291 501.23,290.95 501.44,290.5 501.67,290 501.91,289.5 502.14,289 502.37,288.5 502.6,288 502.83,287.5 503.06,287 503.29,286.5 503.52,286 503.76,285.5 503.99,285 504.22,284.5 504.27,284.4 504.45,284 504.68,283.5 504.91,283 505.14,282.5 505.38,282 505.61,281.5 505.84,281 506.07,280.5 506.3,280 506.53,279.5 506.76,279 507,278.5 507.23,278 507.3,277.84 507.46,277.5 507.69,277 507.92,276.5 508.15,276 508.38,275.5 508.61,275 508.8,274.6 508.83,274.5 508.96,274 509.09,273.5 509.22,273 509.35,272.5 509.48,272 509.61,271.5 509.67,271.29 509.74,271 509.87,270.5 510,270 510.13,269.5 510.27,269 510.4,268.5 510.53,268 510.66,267.5 510.79,267 510.92,266.5 511.05,266 511.18,265.5 511.31,265 511.38,264.74 511.44,264.5 511.57,264 511.7,263.5 511.84,263 511.97,262.5 512.1,262 512.23,261.5 512.36,261 512.49,260.5 512.62,260 512.75,259.5 512.88,259 513.01,258.5 513.09,258.19 513.14,258 513.27,257.5 513.41,257 513.54,256.5 513.67,256 513.8,255.5 513.93,255 514.06,254.5 514.19,254 514.32,253.5 514.45,253 514.58,252.5 514.71,252 514.81,251.63 514.84,251.5 514.98,251 515.11,250.5 515.24,250 515.37,249.5 515.5,249 515.63,248.5 515.76,248 515.89,247.5 516.02,247 516.15,246.5 516.28,246 516.41,245.5 516.52,245.08 516.55,245 516.68,244.5 516.81,244 516.94,243.5 517.07,243 517.2,242.5 517.33,242 517.46,241.5 517.59,241 517.72,240.5 517.85,240 517.98,239.5 518.12,239 518.24,238.53 518.25,238.5 518.38,238 518.51,237.5 518.64,237 518.77,236.5 518.9,236 519.03,235.5 519.16,235 519.29,234.5 519.42,234 519.55,233.5 519.69,233 519.82,232.5 519.95,232 519.95,231.97 520.08,231.5 520.21,231 520.34,230.5 520.47,230 520.6,229.5 520.73,229 520.86,228.5 520.99,228 521.12,227.5 521.26,227 521.39,226.5 521.52,226 521.65,225.5 521.67,225.42 521.7,225.3 521.8,225 521.96,224.5 522.12,224 522.28,223.5 522.44,223 522.6,222.5 522.76,222 522.92,221.5 523.09,221 523.25,220.5 523.41,220 523.57,219.5 523.73,219 523.77,218.87 523.89,218.5 524.05,218 524.21,217.5 524.37,217 524.53,216.5 524.7,216 524.86,215.5 525.02,215 525.18,214.5 525.34,214 525.5,213.5 525.66,213 525.82,212.5 525.88,212.32 525.98,212 526.15,211.5 526.31,211 526.47,210.5 526.63,210 526.79,209.5 526.95,209 527.11,208.5 527.27,208 527.43,207.5 527.59,207 527.76,206.5 527.92,206 527.99,205.76 528.08,205.5 528.24,205 528.4,204.5 528.58,204 528.75,203.5 528.93,203 529.1,202.5 529.28,202 529.45,201.5 529.63,201 529.81,200.5 529.98,200 530.16,199.5 530.26,199.21 530.33,199 530.51,198.5 530.69,198 530.86,197.5 531.04,197 531.21,196.5 531.39,196 531.56,195.5 531.74,195 531.92,194.5 532.09,194 532.27,193.5 532.44,193 532.56,192.66 532.62,192.5 532.79,192 532.9,191.7 532.98,191.5 533.17,191 533.37,190.5 533.56,190 533.75,189.5 533.95,189 534.14,188.5 534.33,188 534.53,187.5 534.72,187 534.92,186.5 535.07,186.1 535.11,186 535.3,185.5 535.5,185 535.69,184.5 535.89,184 536.08,183.5 536.27,183 536.47,182.5 536.66,182 536.7,181.9 536.91,181.5 537.18,181 537.44,180.5 537.71,180 537.95,179.55 537.98,179.5 538.24,179 538.51,178.5 538.77,178 539.04,177.5 539.3,177 539.57,176.5 539.83,176 540.1,175.5 540.37,175 540.63,174.5 540.9,174 541.16,173.5 541.43,173 541.43,173 541.69,172.5 541.96,172 542.23,171.5 542.49,171 542.76,170.5 543.02,170 543.29,169.5 543.5,169.1 543.55,169 543.83,168.5 544.1,168 544.38,167.5 544.65,167 544.92,166.5 544.95,166.44 545.2,166 545.47,165.5 545.74,165 546.02,164.5 546.29,164 546.57,163.5 546.84,163 547.11,162.5 547.39,162 547.66,161.5 547.93,161 548.21,160.5 548.48,160 548.54,159.89 548.76,159.5 549.03,159 549.3,158.5 549.58,158 549.85,157.5 550.12,157 550.4,156.5 550.67,156 550.95,155.5 551,155.4 551.21,155 551.48,154.5 551.74,154 552.01,153.5 552.1,153.34 552.28,153 552.54,152.5 552.81,152 553.07,151.5 553.34,151 553.6,150.5 553.87,150 554.14,149.5 554.4,149 554.67,148.5 554.93,148 555.2,147.5 555.46,147 555.58,146.79 555.73,146.5 556,146 556.26,145.5 556.53,145 556.79,144.5 557.06,144 557.32,143.5 557.59,143 557.86,142.5 558.12,142 558.39,141.5 558.6,141.1 558.66,141 558.94,140.5 559.08,140.23 559.21,140 559.49,139.5 559.77,139 560.05,138.5 560.33,138 560.61,137.5 560.89,137 561.17,136.5 561.45,136 561.73,135.5 562.01,135 562.29,134.5 562.4,134.3 562.54,134 562.68,133.68 562.76,133.5 562.99,133 563.21,132.5 563.44,132 563.66,131.5 563.89,131 564.12,130.5 564.34,130 564.57,129.5 564.79,129 565.02,128.5 565.25,128 565.47,127.5 565.64,127.13 565.7,127 565.92,126.5 566.15,126 566.38,125.5 566.6,125 566.83,124.5 567.05,124 567.28,123.5 567.51,123 567.73,122.5 567.96,122 568.18,121.5 568.41,121 568.6,120.57 568.63,120.5 568.86,120 569.09,119.5 569.31,119 569.54,118.5 569.76,118 569.99,117.5 570.22,117 570.44,116.5 570.67,116 570.89,115.5 571.12,115 571.3,114.6 571.35,114.5 571.56,114.02 571.57,114 571.8,113.5 572.02,113 572.25,112.5 572.47,112 572.7,111.5 572.92,111 573.15,110.5 573.38,110 573.6,109.5 573.83,109 574.05,108.5 574.28,108 574.5,107.5 574.52,107.47 574.73,107 574.95,106.5 575.18,106 575.4,105.5 575.63,105 575.86,104.5 576.08,104 576.31,103.5 576.53,103 576.76,102.5 576.98,102 577.21,101.5 577.43,101 577.47,100.92 577.66,100.5 577.89,100 578.11,99.5 578.34,99 578.56,98.5 578.79,98 579.01,97.5 579.24,97 579.46,96.5 579.6,96.2 579.69,96 579.91,95.5 580.13,95 580.35,94.5 580.41,94.36 580.56,94 580.78,93.5 581,93 581.22,92.5 581.44,92 581.66,91.5 581.88,91 582.1,90.5" fill="#1f77b4" fill-opacity="0.4"/><polyline points="229.43,866.1 225.06,860 220.65,853.78 216.2,847.44 211.71,840.97 207.17,834.38 202.59,827.65 197.97,820.78 193.3,813.76 188.58,806.59 183.82,799.25 179,791.75 174.13,784.08 169.21,776.21 164.24,768.16 159.21,759.9 154.13,751.43 148.98,742.73 143.78,733.8 138.51,724.62 133.18,715.17 127.78,705.44 122.32,695.41 116.78,685.06 111.18,674.38 105.5,663.34 99.74,651.91 93.9,640.07 87.99,627.78 81.98,615.02 75.9,601.74 69.72,587.89 63.45,573.44 57.09,558.32 50.64,542.46 44.08,525.8 37.43,508.24 30.68,489.69 23.82,470.03 16.87,449.11 9.83,426.76 2.7,402.77 -4.51,376.89 -11.78,348.78 -19.08,318.03 -26.37,284.1 -33.58,246.23 -40.59,203.41 -47.23,154.13 -53.15,96.1" fill="none" stroke="#ff0000" stroke-width="1.389" stroke-dasharray="5.139 2.222" stroke-opacity="0.5"/><polyline points="293.18,866.1 288.47,860 283.72,853.78 278.92,847.44 274.07,840.97 269.18,834.38 264.24,827.65 259.25,820.78 254.2,813.76 249.11,806.59 243.95,799.25 238.75,791.75 233.48,784.08 228.16,776.21 222.77,768.16 217.32,759.9 211.81,751.43 206.23,742.73 200.58,733.8 194.86,724.62 189.06,715.17 183.19,705.44 177.25,695.41 171.22,685.06 165.11,674.38 158.91,663.34 152.62,651.91 146.24,640.07 139.77,627.78 133.19,615.02 126.52,601.74 119.73,587.89 112.84,573.44 105.83,558.32 98.7,542.46 91.45,525.8 84.08,508.24 76.58,489.69 68.95,470.03 61.18,449.11 53.28,426.76 45.25,402.77 37.09,376.89 28.81,348.78 20.44,318.03 11.99,284.1 3.54,246.23 -4.84,203.41 -12.98,154.13 -20.59,96.1" fill="none" stroke="#ff0000" stroke-width="1.389" stroke-dasharray="5.139 2.222" stroke-opacity="0.5"/><polyline points="356.93,866.1 351.88,860 346.79,853.78 341.64,847.44 336.44,840.97 331.19,834.38 325.89,827.65 320.52,820.78 315.11,813.76 309.63,806.59 304.09,799.25 298.49,791.75 292.83,784.08 287.1,776.21 281.3,768.16 275.43,759.9 269.49,751.43 263.47,742.73 257.38,733.8 251.2,724.62 244.95,715.17 238.61,705.44 232.18,695.41 225.65,685.06 219.04,674.38 212.32,663.34 205.51,651.91 198.58,640.07 191.55,627.78 184.4,615.02 177.13,601.74 169.74,587.89 162.22,573.44 154.56,558.32 146.77,542.46 138.83,525.8 130.73,508.24 122.48,489.69 114.07,470.03 105.49,449.11 96.73,426.76 87.8,402.77 78.69,376.89 69.4,348.78 59.95,318.03 50.36,284.1 40.66,246.23 30.92,203.41 21.28,154.13 11.97,96.1" fill="none" stroke="#ff0000" stroke-width="1.389" stroke-dasharray="5.139 2.222" stroke-opacity="0.5"/><polyline points="420.68,866.1 415.29,860 409.85,853.78 404.36,847.44 398.81,840.97 393.2,834.38 387.53,827.65 381.8,820.78 376.01,813.76 370.15,806.59 364.23,799.25 358.24,791.75 352.17,784.08 346.04,776.21 339.83,768.16 333.54,759.9 327.17,751.43 320.71,742.73 314.18,733.8 307.55,724.62 300.83,715.17 294.02,705.44 287.1,695.41 280.09,685.06 272.97,674.38 265.74,663.34 258.39,651.91 250.92,640.07 243.33,627.78 235.61,615.02 227.75,601.74 219.75,587.89 211.6,573.44 203.3,558.32 194.84,542.46 186.2,525.8 177.39,508.24 168.39,489.69 159.19,470.03 149.79,449.11 140.18,426.76 130.35,402.77 120.29,376.89 110,348.78 99.47,318.03 88.73,284.1 77.78,246.23 66.68,203.41 55.53,154.13 44.53,96.1" fill="none" stroke="#ff0000" stroke-width="1.389" stroke-dasharray="5.139 2.222" stroke-opacity="0.5"/><polyline points="484.43,866.1 478.7,860 472.92,853.78 467.08,847.44 461.18,840.97 455.21,834.38 449.18,827.65 443.08,820.78 436.91,813.76 430.68,806.59 424.37,799.25 417.98,791.75 411.52,784.08 404.98,776.21 398.35,768.16 391.64,759.9 384.85,751.43 377.96,742.73 370.98,733.8 363.9,724.62 356.71,715.17 349.43,705.44 342.03,695.41 334.52,685.06 326.9,674.38 319.15,663.34 311.27,651.91 303.26,640.07 295.11,627.78 286.82,615.02 278.37,601.74 269.76,587.89 260.99,573.44 252.04,558.32 242.9,542.46 233.57,525.8 224.04,508.24 214.29,489.69 204.32,470.03 194.1,449.11 183.63,426.76 172.9,402.77 161.89,376.89 150.59,348.78 138.99,318.03 127.09,284.1 114.9,246.23 102.44,203.41 89.78,154.13 77.1,96.1" fill="none" stroke="#ff0000" stroke-width="1.389" stroke-dasharray="5.139 2.222" stroke-opacity="0.5"/><polyline points="548.18,866.1 542.11,860 535.99,853.78 529.8,847.44 523.54,840.97 517.22,834.38 510.82,827.65 504.36,820.78 497.82,813.76 491.2,806.59 484.5,799.25 477.73,791.75 470.87,784.08 463.92,776.21 456.88,768.16 449.75,759.9 442.53,751.43 435.2,742.73 427.78,733.8 420.24,724.62 412.6,715.17 404.84,705.44 396.96,695.41 388.96,685.06 380.83,674.38 372.56,663.34 364.16,651.91 355.6,640.07 346.89,627.78 338.02,615.02 328.99,601.74 319.77,587.89 310.37,573.44 300.77,558.32 290.97,542.46 280.95,525.8 270.69,508.24 260.2,489.69 249.44,470.03 238.41,449.11 227.08,426.76 215.45,402.77 203.49,376.89 191.18,348.78 178.51,318.03 165.46,284.1 152.02,246.23 138.19,203.41 124.04,154.13 109.66,96.1" fill="none" stroke="#ff0000" stroke-width="1.389" stroke-dasharray="5.139 2.222" stroke-opacity="0.5"/><polyline points="611.93,866.1 605.53,860 599.06,853.78 592.52,847.44 585.91,840.97 579.23,834.38 572.47,827.65 565.64,820.78 558.72,813.76 551.72,806.59 544.64,799.25 537.47,791.75 530.21,784.08 522.86,776.21 515.41,768.16 507.86,759.9 500.21,751.43 492.45,742.73 484.58,733.8 476.59,724.62 468.48,715.17 460.25,705.44 451.89,695.41 443.39,685.06 434.76,674.38 425.97,663.34 417.04,651.91 407.94,640.07 398.67,627.78 389.23,615.02 379.61,601.74 369.78,587.89 359.75,573.44 349.51,558.32 339.04,542.46 328.32,525.8 317.35,508.24 306.1,489.69 294.56,470.03 282.71,449.11 270.54,426.76 258,402.77 245.09,376.89 231.78,348.78 218.03,318.03 203.82,284.1 189.13,246.23 173.95,203.41 158.29,154.13 142.22,96.1" fill="none" stroke="#ff0000" stroke-width="1.389" stroke-dasharray="5.139 2.222" stroke-opacity="0.5"/><polyline points="675.68,866.1 668.94,860 662.12,853.78 655.24,847.44 648.28,840.97 641.24,834.38 634.12,827.65 626.91,820.78 619.62,813.76 612.25,806.59 604.78,799.25 597.22,791.75 589.56,784.08 581.8,776.21 573.94,768.16 565.97,759.9 557.89,751.43 549.69,742.73 541.38,733.8 532.93,724.62 524.37,715.17 515.66,705.44 506.82,695.41 497.83,685.06 488.69,674.38 479.39,663.34 469.92,651.91 460.28,640.07 450.46,627.78 440.44,615.02 430.22,601.74 419.79,587.89 409.14,573.44 398.25,558.32 387.1,542.46 375.69,525.8 364,508.24 352,489.69 339.68,470.03 327.02,449.11 313.99,426.76 300.55,402.77 286.69,376.89 272.37,348.78 257.55,318.03 242.19,284.1 226.25,246.23 209.71,203.41 192.54,154.13 174.78,96.1" fill="none" stroke="#ff0000" stroke-width="1.389" stroke-dasharray="5.139 2.222" stroke-opacity="0.5"/><polyline points="739.43,866.1 732.35,860 725.19,853.78 717.96,847.44 710.64,840.97 703.25,834.38 695.76,827.65 688.19,820.78 680.53,813.76 672.77,806.59 664.92,799.25 656.96,791.75 648.91,784.08 640.74,776.21 632.47,768.16 624.08,759.9 615.57,751.43 606.94,742.73 598.17,733.8 589.28,724.62 580.25,715.17 571.07,705.44 561.75,695.41 552.26,685.06 542.62,674.38 532.8,663.34 522.8,651.91 512.62,640.07 502.24,627.78 491.65,615.02 480.84,601.74 469.8,587.89 458.52,573.44 446.98,558.32 435.17,542.46 423.07,525.8 410.65,508.24 397.91,489.69 384.81,470.03 371.33,449.11 357.44,426.76 343.11,402.77 328.29,376.89 312.96,348.78 297.07,318.03 280.55,284.1 263.37,246.23 245.47,203.41 226.79,154.13 207.34,96.1" fill="none" stroke="#ff0000" stroke-width="1.389" stroke-dasharray="5.139 2.222" stroke-opacity="0.5"/><polyline points="803.18,866.1 795.76,860 788.26,853.78 780.68,847.44 773.01,840.97 765.26,834.38 757.41,827.65 749.47,820.78 741.43,813.76 733.3,806.59 725.06,799.25 716.71,791.75 708.25,784.08 699.68,776.21 690.99,768.16 682.18,759.9 673.25,751.43 664.18,742.73 654.97,733.8 645.63,724.62 636.13,715.17 626.48,705.44 616.68,695.41 606.7,685.06 596.55,674.38 586.21,663.34 575.69,651.91 564.96,640.07 554.02,627.78 542.86,615.02 531.46,601.74 519.81,587.89 507.9,573.44 495.72,558.32 483.24,542.46 470.44,525.8 457.3,508.24 443.81,489.69 429.93,470.03 415.63,449.11 400.89,426.76 385.66,402.77 369.9,376.89 353.56,348.78 336.58,318.03 318.92,284.1 300.49,246.23 281.23,203.41 261.05,154.13 239.9,96.1" fill="none" stroke="#ff0000" stroke-width="1.389" stroke-dasharray="5.139 2.222" stroke-opacity="0.5"/><polyline points="228.86,866.1 224.73,860 220.53,853.78 216.28,847.44 211.97,840.97 207.6,834.38 203.17,827.65 198.68,820.78 194.13,813.76 189.52,806.59 184.85,799.25 180.12,791.75 175.32,784.08 170.47,776.21 165.55,768.16 160.57,759.9 155.52,751.43 150.41,742.73 145.23,733.8 139.98,724.62 134.67,715.17 129.28,705.44 123.82,695.41 118.29,685.06 112.68,674.38 107,663.34 101.24,651.91 95.39,640.07 89.46,627.78 83.45,615.02 77.35,601.74 71.16,587.89 64.87,573.44 58.49,558.32 52.02,542.46 45.45,525.8 38.77,508.24 32,489.69 25.12,470.03 18.15,449.11 11.08,426.76 3.92,402.77 -3.32,376.89 -10.61,348.78 -17.94,318.03 -25.27,284.1 -32.51,246.23 -39.56,203.41 -46.24,154.13 -52.21,96.1" fill="none" stroke="#0000ff" stroke-width="1.389" stroke-dasharray="5.139 2.222" stroke-opacity="0.5"/><polyline points="291.81,866.1 287.66,860 283.43,853.78 279.12,847.44 274.72,840.97 270.25,834.38 265.69,827.65 261.04,820.78 256.32,813.76 251.51,806.59 246.61,799.25 241.64,791.75 236.58,784.08 231.44,776.21 226.21,768.16 220.9,759.9 215.5,751.43 210.02,742.73 204.45,733.8 198.8,724.62 193.06,715.17 187.23,705.44 181.31,695.41 175.29,685.06 169.19,674.38 162.99,663.34 156.69,651.91 150.29,640.07 143.79,627.78 137.19,615.02 130.48,601.74 123.66,587.89 116.72,573.44 109.67,558.32 102.49,542.46 95.19,525.8 87.76,508.24 80.2,489.69 72.51,470.03 64.68,449.11 56.71,426.76 48.61,402.77 40.37,376.89 32.02,348.78 23.56,318.03 15.02,284.1 6.47,246.23 -2.01,203.41 -10.27,154.13 -18.02,96.1" fill="none" stroke="#0000ff" stroke-width="1.389" stroke-dasharray="5.139 2.222" stroke-opacity="0.5"/><polyline points="354.04,866.1 350.16,860 346.17,853.78 342.07,847.44 337.86,840.97 333.54,834.38 329.11,827.65 324.56,820.78 319.89,813.76 315.11,806.59 310.21,799.25 305.19,791.75 300.06,784.08 294.8,776.21 289.43,768.16 283.94,759.9 278.32,751.43 272.59,742.73 266.74,733.8 260.77,724.62 254.68,715.17 248.47,705.44 242.14,695.41 235.69,685.06 229.11,674.38 222.42,663.34 215.6,651.91 208.65,640.07 201.57,627.78 194.37,615.02 187.03,601.74 179.55,587.89 171.93,573.44 164.17,558.32 156.26,542.46 148.19,525.8 139.96,508.24 131.57,489.69 123,470.03 114.26,449.11 105.33,426.76 96.22,402.77 86.93,376.89 77.44,348.78 67.78,318.03 57.96,284.1 48.01,246.23 38,203.41 28.06,154.13 18.42,96.1" fill="none" stroke="#0000ff" stroke-width="1.389" stroke-dasharray="5.139 2.222" stroke-opacity="0.5"/><polyline points="415.38,866.1 412.1,860 408.7,853.78 405.18,847.44 401.53,840.97 397.74,834.38 393.82,827.65 389.76,820.78 385.55,813.76 381.19,806.59 376.67,799.25 372,791.75 367.16,784.08 362.16,776.21 357,768.16 351.66,759.9 346.15,751.43 340.47,742.73 334.61,733.8 328.58,724.62 322.37,715.17 315.98,705.44 309.42,695.41 302.68,685.06 295.77,674.38 288.68,663.34 281.41,651.91 273.97,640.07 266.35,627.78 258.56,615.02 250.58,601.74 242.43,587.89 234.09,573.44 225.57,558.32 216.85,542.46 207.94,525.8 198.83,508.24 189.51,489.69 179.97,470.03 170.2,449.11 160.2,426.76 149.96,402.77 139.47,376.89 128.71,348.78 117.69,318.03 106.41,284.1 94.89,246.23 83.16,203.41 71.32,154.13 59.54,96.1" fill="none" stroke="#0000ff" stroke-width="1.389" stroke-dasharray="5.139 2.222" stroke-opacity="0.5"/><polyline points="476.01,866.1 473.58,860 471.06,853.78 468.42,847.44 465.67,840.97 462.8,834.38 459.79,827.65 456.65,820.78 453.36,813.76 449.92,806.59 446.32,799.25 442.54,791.75 438.59,784.08 434.44,776.21 430.1,768.16 425.55,759.9 420.79,751.43 415.79,742.73 410.56,733.8 405.09,724.62 399.37,715.17 393.39,705.44 387.14,695.41 380.63,685.06 373.84,674.38 366.77,663.34 359.43,651.91 351.81,640.07 343.91,627.78 335.73,615.02 327.27,601.74 318.54,587.89 309.53,573.44 300.25,558.32 290.7,542.46 280.87,525.8 270.76,508.24 260.36,489.69 249.68,470.03 238.69,449.11 227.4,426.76 215.78,402.77 203.83,376.89 191.52,348.78 178.84,318.03 165.78,284.1 152.33,246.23 138.5,203.41 124.33,154.13 109.93,96.1" fill="none" stroke="#0000ff" stroke-width="1.389" stroke-dasharray="5.139 2.222" stroke-opacity="0.5"/><polyline points="506.2,866.1 504.24,860 502.2,853.78 500.07,847.44 497.84,840.97 495.5,834.38 493.05,827.65 490.48,820.78 487.78,813.76 484.94,806.59 481.96,799.25 478.82,791.75 475.52,784.08 472.03,776.21 468.36,768.16 464.49,759.9 460.4,751.43 456.08,742.73 451.52,733.8 446.7,724.62 441.61,715.17 436.24,705.44 430.56,695.41 424.57,685.06 418.26,674.38 411.61,663.34 404.62,651.91 397.27,640.07 389.56,627.78 381.49,615.02 373.05,601.74 364.25,587.89 355.08,573.44 345.55,558.32 335.66,542.46 325.41,525.8 314.81,508.24 303.85,489.69 292.53,470.03 280.85,449.11 268.8,426.76 256.36,402.77 243.52,376.89 230.26,348.78 216.57,318.03 202.41,284.1 187.77,246.23 172.64,203.41 157.03,154.13 141.02,96.1" fill="none" stroke="#0000ff" stroke-width="1.389" stroke-dasharray="5.139 2.222" stroke-opacity="0.5"/><polyline points="536.41,866.1 534.91,860 533.35,853.78 531.72,847.44 530,840.97 528.21,834.38 526.32,827.65 524.34,820.78 522.25,813.76 520.06,806.59 517.74,799.25 515.3,791.75 512.72,784.08 509.98,776.21 507.09,768.16 504.02,759.9 500.76,751.43 497.29,742.73 493.61,733.8 489.69,724.62 485.5,715.17 481.04,705.44 476.28,695.41 471.2,685.06 465.77,674.38 459.97,663.34 453.78,651.91 447.18,640.07 440.14,627.78 432.64,615.02 424.68,601.74 416.23,587.89 407.28,573.44 397.84,558.32 387.9,542.46 377.46,525.8 366.53,508.24 355.11,489.69 343.21,470.03 330.82,449.11 317.96,426.76 304.61,402.77 290.76,376.89 276.41,348.78 261.51,318.03 246.06,284.1 230.01,246.23 213.33,203.41 196.01,154.13 178.08,96.1" fill="none" stroke="#0000ff" stroke-width="1.389" stroke-dasharray="5.139 2.222" stroke-opacity="0.5"/><polyline points="566.69,866.1 565.63,860 564.52,853.78 563.35,847.44 562.13,840.97 560.84,834.38 559.5,827.65 558.08,820.78 556.59,813.76 555.01,806.59 553.35,799.25 551.59,791.75 549.73,784.08 547.76,776.21 545.66,768.16 543.43,759.9 541.05,751.43 538.51,742.73 535.8,733.8 532.9,724.62 529.78,715.17 526.43,705.44 522.83,695.41 518.95,685.06 514.76,674.38 510.23,663.34 505.32,651.91 500.01,640.07 494.24,627.78 487.99,615.02 481.21,601.74 473.86,587.89 465.9,573.44 457.3,558.32 448.01,542.46 438.03,525.8 427.34,508.24 415.92,489.69 403.79,470.03 390.94,449.11 377.4,426.76 363.17,402.77 348.26,376.89 332.67,348.78 316.38,318.03 299.38,284.1 281.62,246.23 263.06,203.41 243.66,154.13 223.37,96.1" fill="none" stroke="#0000ff" stroke-width="1.389" stroke-dasharray="5.139 2.222" stroke-opacity="0.5"/><polyline points="597.1,866.1 596.42,860 595.71,853.78 594.96,847.44 594.18,840.97 593.36,834.38 592.5,827.65 591.59,820.78 590.63,813.76 589.62,806.59 588.55,799.25 587.41,791.75 586.21,784.08 584.93,776.21 583.57,768.16 582.13,759.9 580.58,751.43 578.92,742.73 577.14,733.8 575.24,724.62 573.18,715.17 570.96,705.44 568.56,695.41 565.96,685.06 563.12,674.38 560.04,663.34 556.67,651.91 552.97,640.07 548.91,627.78 544.44,615.02 539.51,601.74 534.05,587.89 528,573.44 521.29,558.32 513.83,542.46 505.55,525.8 496.36,508.24 486.2,489.69 475,470.03 462.71,449.11 449.3,426.76 434.79,402.77 419.17,376.89 402.49,348.78 384.77,318.03 366.02,284.1 346.23,246.23 325.37,203.41 303.36,154.13 280.14,96.1" fill="none" stroke="#0000ff" stroke-width="1.389" stroke-dasharray="5.139 2.222" stroke-opacity="0.5"/><polyline points="627.65,866.1 627.3,860 626.93,853.78 626.55,847.44 626.15,840.97 625.72,834.38 625.27,827.65 624.8,820.78 624.3,813.76 623.77,806.59 623.2,799.25 622.6,791.75 621.96,784.08 621.28,776.21 620.56,768.16 619.78,759.9 618.94,751.43 618.04,742.73 617.07,733.8 616.02,724.62 614.89,715.17 613.66,705.44 612.32,695.41 610.86,685.06 609.27,674.38 607.51,663.34 605.58,651.91 603.45,640.07 601.09,627.78 598.46,615.02 595.52,601.74 592.22,587.89 588.51,573.44 584.3,558.32 579.53,542.46 574.08,525.8 567.84,508.24 560.67,489.69 552.4,470.03 542.86,449.11 531.87,426.76 519.25,402.77 504.86,376.89 488.6,348.78 470.45,318.03 450.45,284.1 428.68,246.23 405.2,203.41 380.02,154.13 353.08,96.1" fill="none" stroke="#0000ff" stroke-width="1.389" stroke-dasharray="5.139 2.222" stroke-opacity="0.5"/><polyline points="658.34,866.1 658.27,860 658.19,853.78 658.11,847.44 658.02,840.97 657.92,834.38 657.82,827.65 657.7,820.78 657.57,813.76 657.44,806.59 657.29,799.25 657.12,791.75 656.94,784.08 656.74,776.21 656.53,768.16 656.29,759.9 656.02,751.43 655.73,742.73 655.41,733.8 655.05,724.62 654.65,715.17 654.21,705.44 653.72,695.41 653.17,685.06 652.56,674.38 651.87,663.34 651.1,651.91 650.23,640.07 649.24,627.78 648.12,615.02 646.85,601.74 645.39,587.89 643.71,573.44 641.78,558.32 639.53,542.46 636.91,525.8 633.83,508.24 630.18,489.69 625.84,470.03 620.63,449.11 614.32,426.76 606.63,402.77 597.19,376.89 585.57,348.78 571.27,318.03 553.82,284.1 532.86,246.23 508.3,203.41 480.29,154.13 449.06,96.1" fill="none" stroke="#0000ff" stroke-width="1.389" stroke-dasharray="5.139 2.222" stroke-opacity="0.5"/><polyline points="689.18,866.1 689.33,860 689.49,853.78 689.65,847.44 689.81,840.97 689.97,834.38 690.14,827.65 690.31,820.78 690.48,813.76 690.65,806.59 690.83,799.25 691.01,791.75 691.18,784.08 691.36,776.21 691.54,768.16 691.72,759.9 691.89,751.43 692.07,742.73 692.24,733.8 692.4,724.62 692.56,715.17 692.72,705.44 692.86,695.41 693,685.06 693.11,674.38 693.21,663.34 693.29,651.91 693.34,640.07 693.36,627.78 693.34,615.02 693.27,601.74 693.14,587.89 692.94,573.44 692.65,558.32 692.25,542.46 691.7,525.8 690.98,508.24 690.04,489.69 688.82,470.03 687.23,449.11 685.17,426.76 682.47,402.77 678.91,376.89 674.18,348.78 667.8,318.03 659.07,284.1 646.98,246.23 630.09,203.41 606.72,154.13 575.58,96.1" fill="none" stroke="#0000ff" stroke-width="1.389" stroke-dasharray="5.139 2.222" stroke-opacity="0.5"/><polyline points="720.15,866.1 720.48,860 720.81,853.78 721.16,847.44 721.52,840.97 721.89,834.38 722.27,827.65 722.66,820.78 723.06,813.76 723.47,806.59 723.89,799.25 724.33,791.75 724.78,784.08 725.24,776.21 725.71,768.16 726.2,759.9 726.71,751.43 727.23,742.73 727.76,733.8 728.32,724.62 728.88,715.17 729.47,705.44 730.07,695.41 730.7,685.06 731.34,674.38 731.99,663.34 732.67,651.91 733.37,640.07 734.08,627.78 734.82,615.02 735.58,601.74 736.35,587.89 737.13,573.44 737.93,558.32 738.74,542.46 739.55,525.8 740.36,508.24 741.15,489.69 741.91,470.03 742.62,449.11 743.25,426.76 743.75,402.77 744.06,376.89 744.07,348.78 743.62,318.03 742.45,284.1 740.13,246.23 735.9,203.41 728.31,154.13 714.58,96.1" fill="none" stroke="#0000ff" stroke-width="1.389" stroke-dasharray="5.139 2.222" stroke-opacity="0.5"/><polyline points="751.22,866.1 751.69,860 752.17,853.78 752.66,847.44 753.16,840.97 753.68,834.38 754.22,827.65 754.78,820.78 755.35,813.76 755.94,806.59 756.54,799.25 757.17,791.75 757.82,784.08 758.49,776.21 759.19,768.16 759.9,759.9 760.65,751.43 761.42,742.73 762.21,733.8 763.04,724.62 763.9,715.17 764.79,705.44 765.72,695.41 766.69,685.06 767.69,674.38 768.73,663.34 769.82,651.91 770.96,640.07 772.15,627.78 773.4,615.02 774.7,601.74 776.06,587.89 777.49,573.44 779,558.32 780.58,542.46 782.24,525.8 784,508.24 785.85,489.69 787.82,470.03 789.89,449.11 792.09,426.76 794.42,402.77 796.88,376.89 799.48,348.78 802.22,318.03 805.08,284.1 807.99,246.23 810.85,203.41 813.39,154.13 814.96,96.1" fill="none" stroke="#0000ff" stroke-width="1.389" stroke-dasharray="5.139 2.222" stroke-opacity="0.5"/><polyline points="782.4,866.1 782.96,860 783.54,853.78 784.13,847.44 784.75,840.97 785.38,834.38 786.03,827.65 786.71,820.78 787.4,813.76 788.12,806.59 788.86,799.25 789.62,791.75 790.41,784.08 791.23,776.21 792.08,768.16 792.96,759.9 793.87,751.43 794.82,742.73 795.8,733.8 796.82,724.62 797.88,715.17 798.98,705.44 800.13,695.41 801.33,685.06 802.58,674.38 803.89,663.34 805.25,651.91 806.69,640.07 808.19,627.78 809.77,615.02 811.43,601.74 813.18,587.89 815.03,573.44 816.98,558.32 819.05,542.46 821.26,525.8 823.6,508.24 826.1,489.69 828.79,470.03 831.67,449.11 834.78,426.76 838.15,402.77 841.82,376.89 845.83,348.78 850.26,318.03 855.16,284.1 860.64,246.23 866.82,203.41 873.85,154.13 881.94,96.1" fill="none" stroke="#0000ff" stroke-width="1.389" stroke-dasharray="5.139 2.222" stroke-opacity="0.5"/><line x1="83.12" y1="95.5" x2="711.79" y2="95.5" stroke="#b0b0b0" stroke-width="1.111"/><line x1="83.12" y1="322.5" x2="711.79" y2="322.5" stroke="#b0b0b0" stroke-width="1.111"/><line x1="83.12" y1="455.5" x2="711.79" y2="455.5" stroke="#b0b0b0" stroke-width="1.111"/><line x1="83.12" y1="549.5" x2="711.79" y2="549.5" stroke="#b0b0b0" stroke-width="1.111"/><line x1="83.12" y1="622.5" x2="711.79" y2="622.5" stroke="#b0b0b0" stroke-width="1.111"/><line x1="83.12" y1="682.5" x2="711.79" y2="682.5" stroke="#b0b0b0" stroke-width="1.111"/><line x1="83.12" y1="732.5" x2="711.79" y2="732.5" stroke="#b0b0b0" stroke-width="1.111"/><line x1="83.12" y1="776.5" x2="711.79" y2="776.5" stroke="#b0b0b0" stroke-width="1.111"/><line x1="83.12" y1="815.5" x2="711.79" y2="815.5" stroke="#b0b0b0" stroke-width="1.111"/><line x1="83.12" y1="849.5" x2="711.79" y2="849.5" stroke="#b0b0b0" stroke-width="1.111"/><line x1="-356.95" y1="866.1" x2="87.61" y2="96.1" stroke="#b0b0b0" stroke-width="1.111"/><line x1="-294.08" y1="866.1" x2="150.48" y2="96.1" stroke="#b0b0b0" stroke-width="1.111"/><line x1="-231.21" y1="866.1" x2="213.34" y2="96.1" stroke="#b0b0b0" stroke-width="1.111"/><line x1="-168.35" y1="866.1" x2="276.21" y2="96.1" stroke="#b0b0b0" stroke-width="1.111"/><line x1="-105.48" y1="866.1" x2="339.08" y2="96.1" stroke="#b0b0b0" stroke-width="1.111"/><line x1="-42.61" y1="866.1" x2="401.95" y2="96.1" stroke="#b0b0b0" stroke-width="1.111"/><line x1="20.25" y1="866.1" x2="464.81" y2="96.1" stroke="#b0b0b0" stroke-width="1.111"/><line x1="83.12" y1="866.1" x2="527.68" y2="96.1" stroke="#b0b0b0" stroke-width="1.111"/><line x1="145.99" y1="866.1" x2="590.55" y2="96.1" stroke="#b0b0b0" stroke-width="1.111"/><line x1="208.85" y1="866.1" x2="653.41" y2="96.1" stroke="#b0b0b0" stroke-width="1.111"/><line x1="271.72" y1="866.1" x2="716.28" y2="96.1" stroke="#b0b0b0" stroke-width="1.111"/><line x1="334.59" y1="866.1" x2="779.15" y2="96.1" stroke="#b0b0b0" stroke-width="1.111"/><line x1="397.45" y1="866.1" x2="842.01" y2="96.1" stroke="#b0b0b0" stroke-width="1.111"/><line x1="460.32" y1="866.1" x2="904.88" y2="96.1" stroke="#b0b0b0" stroke-width="1.111"/><line x1="523.19" y1="866.1" x2="967.75" y2="96.1" stroke="#b0b0b0" stroke-width="1.111"/><line x1="586.06" y1="866.1" x2="1030.62" y2="96.1" stroke="#b0b0b0" stroke-width="1.111"/><line x1="648.92" y1="866.1" x2="1093.48" y2="96.1" stroke="#b0b0b0" stroke-width="1.111"/><line x1="711.79" y1="866.1" x2="1156.35" y2="96.1" stroke="#b0b0b0" stroke-width="1.111"/><polyline points="582.1,90.5 579.6,96.2 571.3,114.6 562.4,134.3 558.6,141.1 551,155.4 543.5,169.1 536.7,181.9 532.9,191.7 528.4,204.5 521.7,225.3 508.8,274.6 497,300.1 485.6,322.3 470.5,346.5 460.8,358.8 451.4,370.7 433.2,417 433.1,425 432.9,440.1 434.8,452.2 437.2,464.5 445.3,477.9 452.9,491.5 462,509.6 469.5,521.7 477.8,534.6 481.2,540 493.2,556.6 500.8,570.2 507.2,580.8 511.4,594.4 516.7,609.5 521.2,624.6 523.5,630.7 529.5,645.8 531.5,650 536.7,662.1 541.2,674.2 548,698.4 551.8,710.5 554.4,721 555.6,733.1 557.1,743.7 559.5,752.8 563.5,765.6 568,775.8 570.6,788.6 571.8,802.7 571.2,815.5 568.6,821.9 565.4,827 566.3,838.5 575.8,849.4" fill="none" stroke="#ff0000" stroke-width="2.083" stroke-linejoin="round" stroke-linecap="square"/><polyline points="401.5,91.5 399,95.7 374.1,139.9 339.3,200 331,215.1 315.9,240.8 300.8,266.5 290.2,283.1 280.4,300.5 296.2,324 321.4,349.2 330.5,359.9 340.3,370.5 347.1,384.1 352.4,393.9 363.7,406.7 374.3,418.1 380.9,431.3 386.5,441.4 395.3,455.3 417,487.8 416.1,498.1 414.9,510.7 417.2,522.6 417.8,535.2 416.5,547.8 415.9,557.9 426.6,569.2 437.9,580.5 450.5,591.9 465.9,604.8 459,628 421.5,651 397.6,674.3 410.1,698.1 425.2,720.2 452.4,731.3 482.6,741.4 500.8,752.5 518.9,763.6 542.1,776.6 555.8,791.2 560.5,810 564.5,825 566.5,836 568.2,843.2 566.2,848.8" fill="none" stroke="#008000" stroke-width="2.083" stroke-linejoin="round" stroke-linecap="square"/><polyline points="576.38,850.19 574.18,848.01 571.97,845.82 569.75,843.62 567.52,841.4 566.33,834.84 565.1,828.29 563.84,821.74 562.54,815.19 561.2,808.63 559.82,802.08 558.4,795.53 556.94,788.97 555.44,782.42 553.88,775.87 552.29,769.32 550.64,762.76 548.94,756.21 547.19,749.66 545.39,743.1 543.53,736.55 541.61,730 539.64,723.44 537.61,716.89 535.51,710.34 533.36,703.79 531.14,697.23 528.85,690.68 526.5,684.13 524.07,677.57 521.58,671.02 519.02,664.47 516.39,657.92 513.69,651.36 510.91,644.81 508.06,638.26 505.14,631.7 502.15,625.15 499.08,618.6 495.94,612.04 492.74,605.49 489.46,598.94 486.11,592.39 482.7,585.83 479.23,579.28 475.69,572.73 472.1,566.17 468.45,559.62 464.74,553.07 460.99,546.52 457.19,539.96 453.35,533.41 449.48,526.86 445.57,520.3 441.63,513.75 437.66,507.2 433.68,500.64 429.67,494.09 425.65,487.54 421.63,480.99 417.6,474.43 413.56,467.88 409.53,461.33 405.51,454.77 401.49,448.22 397.48,441.67 393.49,435.12 389.52,428.56 385.56,422.01 381.63,415.46 377.71,408.9 373.83,402.35 369.97,395.8 366.14,389.24 362.34,382.69 358.58,376.14 354.84,369.59 351.14,363.03 347.47,356.48 343.84,349.93 340.24,343.37 336.68,336.82 333.16,330.27 329.67,323.72 326.22,317.16 322.81,310.61 319.43,304.06 316.1,297.5 312.8,290.95 309.54,284.4 306.32,277.84 303.14,271.29 299.99,264.74 296.89,258.19 293.82,251.63 290.79,245.08 287.8,238.53 284.84,231.97 281.93,225.42 279.05,218.87 276.21,212.32 273.41,205.76 270.64,199.21 267.91,192.66 265.22,186.1 262.57,179.55 259.95,173 257.36,166.44 254.82,159.89 252.31,153.34 249.83,146.79 247.4,140.23 244.99,133.68 242.62,127.13 240.29,120.57 237.99,114.02 235.73,107.47 233.5,100.92 231.31,94.36 229.15,87.81 227.02,81.26 224.93,74.7 222.87,68.15 220.84,61.6" fill="none" stroke="#000000" stroke-width="2.778" stroke-linejoin="round" stroke-linecap="square"/><g fill="#000" stroke="#000" stroke-width="2.083" stroke-linejoin="round"><polygon points="711.79,137.2 681.68,153.06 687.33,150.08 682.27,145.05 687.33,150.08"/><polygon points="711.79,183.7 680.49,197.06 671.24,186.21 680.49,197.06"/><polygon points="711.79,230.6 679.09,240 671.24,228.1 679.09,240"/><polygon points="711.79,277.5 677.93,280.87 672.35,267.74 677.93,280.87"/><polygon points="711.79,324.1 678.29,330.08 671.71,317.43 678.29,330.08"/><polygon points="711.79,371.2 690.49,397.74 677.21,392.53 690.49,397.74"/><polygon points="711.79,417.6 709.41,451.54 695.54,454.84 709.41,451.54 709.71,447.3 695.83,450.59 709.71,447.3"/><polygon points="711.79,464.4 706.12,497.95 692,499.88 706.12,497.95 706.83,493.76 692.7,495.69 706.83,493.76 707.54,489.56 700.48,490.53 707.54,489.56"/><polygon points="711.79,511.4 702.52,544.14 688.26,544.52 702.52,544.14 703.68,540.05 689.42,540.43 703.68,540.05"/><polygon points="711.79,558 701.56,590.45 687.3,590.42 701.56,590.45 702.84,586.4 695.71,586.38 702.84,586.4"/><polygon points="711.79,603.8 700.66,635.96 686.4,635.52 700.66,635.96"/><polygon points="711.79,652.7 704.83,686.01 690.63,687.39 704.83,686.01"/><polygon points="711.79,698.1 700.74,730.28 686.48,729.88 700.74,730.28"/><polygon points="711.79,741.4 697.02,772.06 682.91,769.98 697.02,772.06"/><polygon points="711.79,776.8 687,800.11 674.58,793.11 687,800.11"/><polygon points="711.79,803.4 679.13,812.96 671.23,801.09 679.13,812.96"/><polygon points="711.79,823 677.87,825.76 684.23,825.24 681.56,818.63 684.23,825.24"/><polygon points="711.79,835.8 679.63,846.92 685.66,844.84 681.43,839.1 685.66,844.84"/><polygon points="711.79,843.4 682.03,859.9 687.61,856.8 682.45,851.88 687.61,856.8"/><polygon points="711.79,848.6 682.37,865.7 687.89,862.49 682.63,857.68 687.89,862.49"/></g></g><rect x="83.5" y="95.5" width="629.0" height="770.0" fill="none" stroke="#000" stroke-width="1.111" stroke-linejoin="miter"/><g stroke="#000" stroke-width="1.111"><line x1="78.5" y1="95.5" x2="83.5" y2="95.5"/><line x1="78.5" y1="322.5" x2="83.5" y2="322.5"/><line x1="78.5" y1="455.5" x2="83.5" y2="455.5"/><line x1="78.5" y1="549.5" x2="83.5" y2="549.5"/><line x1="78.5" y1="622.5" x2="83.5" y2="622.5"/><line x1="78.5" y1="682.5" x2="83.5" y2="682.5"/><line x1="78.5" y1="732.5" x2="83.5" y2="732.5"/><line x1="78.5" y1="776.5" x2="83.5" y2="776.5"/><line x1="78.5" y1="815.5" x2="83.5" y2="815.5"/><line x1="78.5" y1="849.5" x2="83.5" y2="849.5"/><line x1="83.5" y1="865.5" x2="83.5" y2="870.5"/><line x1="146.5" y1="865.5" x2="146.5" y2="870.5"/><line x1="209.5" y1="865.5" x2="209.5" y2="870.5"/><line x1="272.5" y1="865.5" x2="272.5" y2="870.5"/><line x1="335.5" y1="865.5" x2="335.5" y2="870.5"/><line x1="397.5" y1="865.5" x2="397.5" y2="870.5"/><line x1="460.5" y1="865.5" x2="460.5" y2="870.5"/><line x1="523.5" y1="865.5" x2="523.5" y2="870.5"/><line x1="586.5" y1="865.5" x2="586.5" y2="870.5"/><line x1="649.5" y1="865.5" x2="649.5" y2="870.5"/><line x1="712.5" y1="865.5" x2="712.5" y2="870.5"/></g><g style="font-family:'DejaVu Sans',sans-serif;font-size:13.889px" fill="#000"><text x="73.40" y="96.10" text-anchor="end" dominant-baseline="central">100</text><text x="73.40" y="323.08" text-anchor="end" dominant-baseline="central">200</text><text x="73.40" y="455.86" text-anchor="end" dominant-baseline="central">300</text><text x="73.40" y="550.07" text-anchor="end" dominant-baseline="central">400</text><text x="73.40" y="623.14" text-anchor="end" dominant-baseline="central">500</text><text x="73.40" y="682.84" text-anchor="end" dominant-baseline="central">600</text><text x="73.40" y="733.32" text-anchor="end" dominant-baseline="central">700</text><text x="73.40" y="777.05" text-anchor="end" dominant-baseline="central">800</text><text x="73.40" y="815.62" text-anchor="end" dominant-baseline="central">900</text><text x="73.40" y="850.12" text-anchor="end" dominant-baseline="central">1000</text><text x="83.12" y="886.62" text-anchor="middle">−60</text><text x="145.99" y="886.62" text-anchor="middle">−50</text><text x="208.85" y="886.62" text-anchor="middle">−40</text><text x="271.72" y="886.62" text-anchor="middle">−30</text><text x="334.59" y="886.62" text-anchor="middle">−20</text><text x="397.45" y="886.62" text-anchor="middle">−10</text><text x="460.32" y="886.62" text-anchor="middle">0</text><text x="523.19" y="886.62" text-anchor="middle">10</text><text x="586.06" y="886.62" text-anchor="middle">20</text><text x="648.92" y="886.62" text-anchor="middle">30</text><text x="711.79" y="886.62" text-anchor="middle">40</text></g><text style="font-family:'DejaVu Sans',sans-serif;font-size:13.889px" x="335.06" y="907.8">Temperature (<tspan font-size="9.72" dx="1.7" dy="-5.8" fill="#666" stroke="#666" stroke-width="0.7">∘</tspan><tspan dx="2.0" dy="5.8">C)</tspan></text><text style="font-family:'DejaVu Sans',sans-serif;font-size:13.889px" transform="translate(29,481.10) rotate(-90)" text-anchor="middle">Pressure (hPa)</text><defs><clipPath id="hc"><rect x="91.1" y="704.2" width="153.80" height="154.00"/></clipPath></defs><rect x="91.5" y="704.5" width="154" height="154" fill="#fff"/><g clip-path="url(#hc)"><path d="M193.68,780.95 A25.68,25.68 0 0 0 142.32,780.95 A25.68,25.68 0 0 0 193.68,780.95" fill="none" stroke="#808080" stroke-width="1.389" stroke-dasharray="5.139 2.222"/><path d="M219.36,780.95 A51.36,51.36 0 0 0 116.64,780.95 A51.36,51.36 0 0 0 219.36,780.95" fill="none" stroke="#808080" stroke-width="1.389" stroke-dasharray="5.139 2.222"/><path d="M245.04,780.95 A77.04,77.04 0 0 0 90.96,780.95 A77.04,77.04 0 0 0 245.04,780.95" fill="none" stroke="#808080" stroke-width="1.389" stroke-dasharray="5.139 2.222"/><path d="M270.72,780.95 A102.72,102.72 0 0 0 65.28,780.95 A102.72,102.72 0 0 0 270.72,780.95" fill="none" stroke="#808080" stroke-width="1.389" stroke-dasharray="5.139 2.222"/><path d="M296.40,780.95 A128.40,128.40 0 0 0 39.60,780.95 A128.40,128.40 0 0 0 296.40,780.95" fill="none" stroke="#808080" stroke-width="1.389" stroke-dasharray="5.139 2.222"/><line x1="168.0" y1="858.2" x2="168.0" y2="704.2" stroke="#808080" stroke-width="2.083" stroke-dasharray="7.708 3.333"/><line x1="91.1" y1="781" x2="244.9" y2="781" stroke="#808080" stroke-width="2.083" stroke-dasharray="7.708 3.333"/></g><g clip-path="url(#hc)" stroke-width="4.2" stroke-linecap="butt"><line x1="176.0" y1="775.0" x2="180.5" y2="775.6" stroke="#450457"/><line x1="180.5" y1="775.6" x2="185.4" y2="776.3" stroke="#460b5e"/><line x1="185.4" y1="776.3" x2="185.2" y2="780.0" stroke="#471365"/><line x1="185.2" y1="780.0" x2="188.2" y2="773.5" stroke="#481a6c"/><line x1="188.2" y1="773.5" x2="187.5" y2="767.0" stroke="#482173"/><line x1="187.5" y1="767.0" x2="185.5" y2="762.5" stroke="#482878"/><line x1="185.5" y1="762.5" x2="180.0" y2="761.0" stroke="#46307e"/><line x1="180.0" y1="761.0" x2="176.0" y2="760.5" stroke="#414487"/><line x1="176.0" y1="760.5" x2="172.5" y2="757.0" stroke="#3a538b"/><line x1="172.5" y1="757.0" x2="177.0" y2="763.0" stroke="#38598c"/><line x1="177.0" y1="763.0" x2="173.0" y2="761.5" stroke="#375b8d"/><line x1="173.0" y1="761.5" x2="175.0" y2="755.5" stroke="#355e8d"/><line x1="175.0" y1="755.5" x2="178.0" y2="759.0" stroke="#34618d"/><line x1="178.0" y1="759.0" x2="171.5" y2="759.5" stroke="#33638d"/><line x1="171.5" y1="759.5" x2="178.3" y2="756.0" stroke="#31678e"/><line x1="178.3" y1="756.0" x2="178.6" y2="748.0" stroke="#2e6f8e"/><line x1="178.6" y1="748.0" x2="182.1" y2="739.3" stroke="#2a788e"/><line x1="182.1" y1="739.3" x2="183.4" y2="729.1" stroke="#26828e"/><line x1="183.4" y1="729.1" x2="184.8" y2="720.5" stroke="#228b8d"/><line x1="184.8" y1="720.5" x2="183.8" y2="718.8" stroke="#20928c"/><line x1="183.8" y1="718.8" x2="178.5" y2="721.5" stroke="#1f978b"/><line x1="178.5" y1="721.5" x2="172.9" y2="724.4" stroke="#1f9e89"/><line x1="172.9" y1="724.4" x2="171.8" y2="728.6" stroke="#20a486"/><line x1="171.8" y1="728.6" x2="177.0" y2="739.5" stroke="#25ab82"/><line x1="177.0" y1="739.5" x2="182.5" y2="750.0" stroke="#29af7f"/><line x1="182.5" y1="750.0" x2="182.6" y2="761.0" stroke="#2fb47c"/><line x1="182.6" y1="761.0" x2="187.6" y2="771.0" stroke="#3fbc73"/><line x1="187.6" y1="771.0" x2="189.2" y2="777.5" stroke="#6ece58"/><line x1="189.2" y1="777.5" x2="187.5" y2="774.0" stroke="#a8db34"/><line x1="187.5" y1="774.0" x2="183.0" y2="773.2" stroke="#dfe318"/></g><rect x="91.5" y="704.5" width="154" height="154" fill="none" stroke="#000" stroke-width="1.111"/><g style="font-family:'DejaVu Sans',sans-serif;font-size:12.500px;font-weight:bold" text-anchor="middle"><text x="166.15" y="681.6">Wind Profile</text><text x="170.55" y="697">10m/s increment</text></g><g style="font-family:'DejaVu Sans',sans-serif;font-size:13.889px;font-weight:bold;white-space:pre" fill="#000"><text x="9.7" y="20.8">SkewTLogP BTTower_AMOF</text><text x="9.7" y="36.9">Lat: 51.52   Lon: -0.14</text><text x="9.7" y="53.0" textLength="631.7" lengthAdjust="spacing">Simulation start time: 2024-07-19_00:00:00, Valid time: 2024-07-21T02:00:00.00</text><text x="9.7" y="69.6">CAPE=2 j/kg, CIN=0 j/kg, LCL=973 hPa, LFC=977 hPa, EQ=937 hPa</text><text x="10.4" y="87.2">LFT IDX=3<tspan font-size="9.72" font-weight="normal" dx="2.15" dy="-6.4" fill="#666" stroke="#666" stroke-width="0.7">∘</tspan><tspan dx="2.25" dy="6.4">C</tspan>, K IDX=18<tspan font-size="9.72" font-weight="normal" dx="2.15" dy="-6.4" fill="#666" stroke="#666" stroke-width="0.7">∘</tspan><tspan dx="2.25" dy="6.4">C</tspan>, TOTAL TOTS=46<tspan font-size="9.72" font-weight="normal" dx="2.15" dy="-6.4" fill="#666" stroke="#666" stroke-width="0.7">∘</tspan><tspan dx="2.25" dy="6.4">C</tspan>, SHWTR_IDX=2<tspan font-size="9.72" font-weight="normal" dx="2.15" dy="-6.4" fill="#666" stroke="#666" stroke-width="0.7">∘</tspan><tspan dx="2.25" dy="6.4">C</tspan></text></g></svg></body></html>
